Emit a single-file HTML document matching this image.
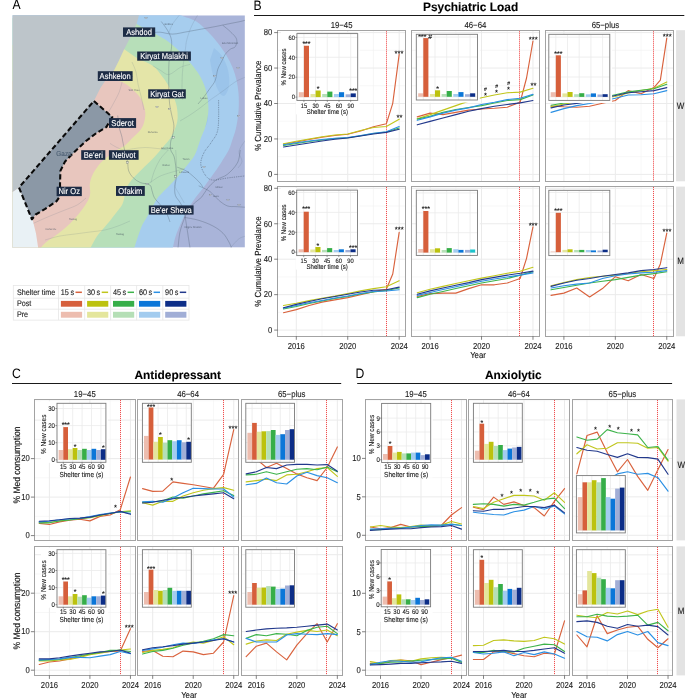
<!DOCTYPE html><html><head><meta charset="utf-8"><title>Figure</title>
<style>html,body{margin:0;padding:0;background:#fff;}svg{display:block;will-change:transform;}text{font-family:"Liberation Sans",sans-serif;text-rendering:geometricPrecision;}</style></head><body>
<svg width="685" height="698" viewBox="0 0 685 698" font-family='"Liberation Sans", sans-serif'>
<rect x="0" y="0" width="685" height="698" fill="#FFFFFF" />
<clipPath id="mapclip"><rect x="12.6" y="15.3" width="232.3" height="232.3"/></clipPath>
<g clip-path="url(#mapclip)">
<rect x="12.6" y="15.3" width="232.3" height="232.3" fill="#A9B4D9" />
<path d="M176,9 C176.88,10.05 177.9,13.22 181.3,15.3 C184.7,17.38 192,18.78 196.4,21.5 C200.8,24.22 204.13,28.03 207.7,31.6 C211.27,35.17 214.67,38.93 217.8,42.9 C220.93,46.87 224,51.22 226.5,55.4 C229,59.58 231.12,63.82 232.8,68 C234.48,72.18 235.65,76.32 236.6,80.5 C237.55,84.68 238.13,89.02 238.5,93.1 C238.87,97.18 238.88,101.18 238.8,105 C238.72,108.82 238.5,112 238,116 C237.5,120 236.8,124.83 235.8,129 C234.8,133.17 233.17,137.5 232,141 C230.83,144.5 230.3,146.92 228.8,150 C227.3,153.08 224.92,156.4 223,159.5 C221.08,162.6 220.17,164.45 217.3,168.6 C214.43,172.75 209.38,179.62 205.8,184.4 C202.22,189.18 198.9,193 195.8,197.3 C192.7,201.6 189.58,206.13 187.2,210.2 C184.82,214.27 183.42,217.4 181.5,221.7 C179.58,226 177.13,231.7 175.7,236 C174.27,240.3 173.6,244.83 172.9,247.5 C172.2,250.17 171.73,251.25 171.5,252 L0,252 L0,9 Z" fill="#A6CDEE"/>
<path d="M214,48 C215.33,49.33 219.67,52.33 222,56 C224.33,59.67 226.83,65 228,70 C229.17,75 229.67,81.67 229,86 C228.33,90.33 225.83,95.33 224,96 C222.17,96.67 219.83,93.5 218,90 C216.17,86.5 214.33,80 213,75 C211.67,70 210.5,62.5 210,60 Z" fill="#98C2E8" opacity="0.8"/>
<path d="M200,96 C201,97.33 204.67,100.33 206,104 C207.33,107.67 208.33,114 208,118 C207.67,122 205.67,127.33 204,128 C202.33,128.67 199.17,125.33 198,122 C196.83,118.67 197.17,110.33 197,108 Z" fill="#98C2E8" opacity="0.8"/>
<path d="M130,18 C131.18,19.03 133.77,22.03 137.1,24.2 C140.43,26.37 146.18,28.93 150,31 C153.82,33.07 156.67,34.62 160,36.6 C163.33,38.58 166.45,40.18 170,42.9 C173.55,45.62 177.73,49.35 181.3,52.9 C184.87,56.45 188.47,60.63 191.4,64.2 C194.33,67.77 196.82,70.95 198.9,74.3 C200.98,77.65 202.5,80.68 203.9,84.3 C205.3,87.92 206.55,92.05 207.3,96 C208.05,99.95 208.37,104.33 208.4,108 C208.43,111.67 208.07,114.67 207.5,118 C206.93,121.33 206,124.92 205,128 C204,131.08 202.58,133.67 201.5,136.5 C200.42,139.33 199.67,141.83 198.5,145 C197.33,148.17 196.5,152 194.5,155.5 C192.5,159 189.15,162.62 186.5,166 C183.85,169.38 181.35,172.63 178.6,175.8 C175.85,178.97 172.77,182.13 170,185 C167.23,187.87 164.08,190.83 162,193 C159.92,195.17 159,195.83 157.5,198 C156,200.17 154.75,202.83 153,206 C151.25,209.17 149,213.33 147,217 C145,220.67 143.33,222.17 141,228 C138.67,233.83 134.33,248 133,252 L0,252 L0,18 Z" fill="#B7DFB9"/>
<path d="M118,45 C119.22,45.83 121.9,47.7 125.3,50 C128.7,52.3 133.82,56.17 138.4,58.8 C142.98,61.43 148.7,62.68 152.8,65.8 C156.9,68.92 160.08,73.6 163,77.5 C165.92,81.4 168.12,84.82 170.3,89.2 C172.48,93.58 174.88,98.93 176.1,103.8 C177.32,108.67 177.87,114.03 177.6,118.4 C177.33,122.77 175.83,126.52 174.5,130 C173.17,133.48 171.58,136.38 169.6,139.3 C167.62,142.22 165.13,144.57 162.6,147.5 C160.07,150.43 157.33,153.78 154.4,156.9 C151.47,160.02 148.12,163.1 145,166.2 C141.88,169.3 138.53,172.38 135.7,175.5 C132.87,178.62 129.73,181.98 128,184.9 C126.27,187.82 126.22,189.82 125.3,193 C124.38,196.18 124.05,200.67 122.5,204 C120.95,207.33 118.25,210 116,213 C113.75,216 111.17,219.33 109,222 C106.83,224.67 105.08,226.5 103,229 C100.92,231.5 98.5,234 96.5,237 C94.5,240 92.25,244.5 91,247 C89.75,249.5 89.33,251.17 89,252 L0,252 L0,45 Z" fill="#E4E5A8"/>
<path d="M98,81 C99.1,80.8 102.27,79.97 104.6,79.8 C106.93,79.63 109.32,79.72 112,80 C114.68,80.28 118.03,80.58 120.7,81.5 C123.37,82.42 125.82,83.97 128,85.5 C130.18,87.03 131.97,88.95 133.8,90.7 C135.63,92.45 137.53,94.07 139,96 C140.47,97.93 141.55,99.53 142.6,102.3 C143.65,105.07 145.07,109.18 145.3,112.6 C145.53,116.02 144.82,119.9 144,122.8 C143.18,125.7 142.17,127.63 140.4,130 C138.63,132.37 135.93,134.47 133.4,137 C130.87,139.53 127.73,143.15 125.2,145.2 C122.67,147.25 120.73,147.67 118.2,149.3 C115.67,150.93 113,152.67 110,155 C107,157.33 103.1,160.02 100.2,163.3 C97.3,166.58 94.33,171.22 92.6,174.7 C90.87,178.18 90.2,181.15 89.8,184.2 C89.4,187.25 90.5,190.28 90.2,193 C89.9,195.72 89.53,197.5 88,200.5 C86.47,203.5 83.95,207.2 81,211 C78.05,214.8 74.13,219.5 70.3,223.3 C66.47,227.1 62.08,230.58 58,233.8 C53.92,237.02 49.3,239.57 45.8,242.6 C42.3,245.63 38.47,250.43 37,252 L0,252 L0,81 Z" fill="#E8C6BE"/>
<polygon points="0,193 12.4,192 19,187.5 32.8,220.4 36,233.5 38.8,252 0,252" fill="#E9F1F5" />
<polygon points="0,0 140,0 139,15.3 136.5,24 130,38 123.8,50 119.2,60 114.1,70.2 106.3,79.2 100.4,88 93.9,101 19,187.5 12.4,192 0,193" fill="#BDC5CA" />
<path d="M150,33 C151.67,32.87 156.23,32.02 160,32.2 C163.77,32.38 168,34.2 172.6,34.1 C177.2,34 182.8,32.43 187.6,31.6 C192.4,30.77 196.8,29.93 201.4,29.1 C206,28.27 210.8,27.45 215.2,26.6 C219.6,25.75 223.6,24.85 227.8,24 C232,23.15 237.37,22.17 240.4,21.5 C243.43,20.83 245.07,20.25 246,20" fill="none" stroke="#4E5C6E" stroke-width="0.55" stroke-opacity="0.6"/>
<path d="M161.3,21.5 C162.33,22.97 165.83,27.37 167.5,30.3 C169.17,33.23 170.67,35.95 171.3,39.1 C171.93,42.25 171.68,45.38 171.3,49.2 C170.92,53.02 169.42,57.77 169,62 C168.58,66.23 168.83,70.07 168.8,74.6 C168.77,79.13 168.67,84.33 168.8,89.2 C168.93,94.07 169.1,99.42 169.6,103.8 C170.1,108.18 171.08,111.85 171.8,115.5 C172.52,119.15 173.78,122.32 173.9,125.7 C174.02,129.08 173.03,133.13 172.5,135.8 C171.97,138.47 171,139.35 170.7,141.7 C170.4,144.05 170.12,147.37 170.7,149.9 C171.28,152.43 173.32,153.8 174.2,156.9 C175.08,160 175.6,165.2 176,168.5 C176.4,171.8 176.8,173.77 176.6,176.7 C176.4,179.63 175,182.98 174.8,186.1 C174.6,189.22 174.53,192.68 175.4,195.4 C176.27,198.12 178.63,199.97 180,202.4 C181.37,204.83 182.6,206.73 183.6,210 C184.6,213.27 185.27,217.83 186,222 C186.73,226.17 187.33,230.67 188,235 C188.67,239.33 189.67,245.83 190,248" fill="none" stroke="#4E5C6E" stroke-width="0.55" stroke-opacity="0.6"/>
<path d="M179.5,15 C178.35,16.5 174.38,21.03 172.6,24 C170.82,26.97 169.43,31.33 168.8,32.8" fill="none" stroke="#5F6E80" stroke-width="0.45" stroke-opacity="0.38"/>
<path d="M197.7,15 C196.85,16.5 194.07,21.03 192.6,24 C191.13,26.97 189.93,29.87 188.9,32.8 C187.87,35.73 187.03,38.45 186.4,41.6 C185.77,44.75 185.73,46.88 185.1,51.7 C184.47,56.52 183.12,64.23 182.6,70.5 C182.08,76.77 182,84.38 182,89.3 C182,94.22 182.5,98.22 182.6,100" fill="none" stroke="#5F6E80" stroke-width="0.45" stroke-opacity="0.38"/>
<path d="M222.8,25.3 C224.05,26.35 228,29.3 230.3,31.6 C232.6,33.9 235.77,36.6 236.6,39.1 C237.43,41.6 236.35,44.92 235.3,46.6 C234.25,48.28 231.97,47.93 230.3,49.2 C228.63,50.47 226.77,52.12 225.3,54.2 C223.83,56.28 222.75,59.2 221.5,61.7 C220.25,64.2 218.85,66.07 217.8,69.2 C216.75,72.33 216.47,77.35 215.2,80.5 C213.93,83.65 212.08,85.37 210.2,88.1 C208.32,90.83 205.93,94.25 203.9,96.9 C201.87,99.55 198.98,102.82 198,104" fill="none" stroke="#4E5C6E" stroke-width="0.55" stroke-opacity="0.6"/>
<path d="M246,76.8 C244.22,77.63 238.75,79.72 235.3,81.8 C231.85,83.88 228.43,87 225.3,89.3 C222.17,91.6 219.02,93.82 216.5,95.6 C213.98,97.38 212.95,97.93 210.2,100 C207.45,102.07 203.37,105.5 200,108 C196.63,110.5 193.33,112.83 190,115 C186.67,117.17 181.67,120 180,121" fill="none" stroke="#5F6E80" stroke-width="0.45" stroke-opacity="0.38"/>
<path d="M122.1,81.9 C121.62,83.6 120.42,88.93 119.2,92.1 C117.98,95.27 116.5,97.73 114.8,100.9 C113.1,104.07 110.8,108.42 109,111.1 C107.2,113.78 104.83,116.02 104,117" fill="none" stroke="#5F6E80" stroke-width="0.45" stroke-opacity="0.38"/>
<path d="M117.7,115.5 C117.95,117.45 118.53,123.78 119.2,127.2 C119.87,130.62 121.1,133.58 121.7,136 C122.3,138.42 122.32,139.38 122.8,141.7 C123.28,144.02 123.82,146.6 124.6,149.9 C125.38,153.2 126.82,158 127.5,161.5 C128.18,165 127.72,168.17 128.7,170.9 C129.68,173.63 131.45,175.95 133.4,177.9 C135.35,179.85 137.68,181.43 140.4,182.6 C143.12,183.77 147.77,183.55 149.7,184.9 C151.63,186.25 151.22,188.57 152,190.7 C152.78,192.83 153.03,195.37 154.4,197.7 C155.77,200.03 158.27,202.32 160.2,204.7 C162.13,207.08 164.37,209.12 166,212 C167.63,214.88 169.33,220.33 170,222" fill="none" stroke="#4E5C6E" stroke-width="0.55" stroke-opacity="0.6"/>
<path d="M148.5,183.7 C150.25,182.53 155.68,178.45 159,176.7 C162.32,174.95 165.47,174.17 168.4,173.2 C171.33,172.23 173.88,171.68 176.6,170.9 C179.32,170.12 183.35,168.9 184.7,168.5" fill="none" stroke="#5F6E80" stroke-width="0.45" stroke-opacity="0.38"/>
<path d="M168.4,149.9 C167.03,151.45 162.53,155.7 160.2,159.2 C157.87,162.7 155.95,167 154.4,170.9 C152.85,174.8 151.48,180.65 150.9,182.6" fill="none" stroke="#5F6E80" stroke-width="0.45" stroke-opacity="0.38"/>
<path d="M110,143.4 C111.17,144.08 114.57,146.42 117,147.5 C119.43,148.58 121.87,149.7 124.6,149.9 C127.33,150.1 130,149.1 133.4,148.7 C136.8,148.3 140.73,147.5 145,147.5 C149.27,147.5 155.1,148.3 159,148.7 C162.9,149.1 166.83,149.7 168.4,149.9" fill="none" stroke="#5F6E80" stroke-width="0.45" stroke-opacity="0.38"/>
<path d="M33.5,223.3 C36.25,222.08 44.75,218.22 50,216 C55.25,213.78 60.45,211.85 65,210 C69.55,208.15 73.8,206.9 77.3,204.9 C80.8,202.9 84.55,199.15 86,198" fill="none" stroke="#5F6E80" stroke-width="0.45" stroke-opacity="0.38"/>
<path d="M45,240 C47.5,239.33 55,237 60,236 C65,235 70,234.67 75,234 C80,233.33 85,232.67 90,232 C95,231.33 100.33,231 105,230 C109.67,229 113.83,227.5 118,226 C122.17,224.5 128,221.83 130,221" fill="none" stroke="#5F6E80" stroke-width="0.45" stroke-opacity="0.38"/>
<path d="M152.8,65.8 C154,66.5 157.33,68.53 160,70 C162.67,71.47 165.38,75.05 168.8,74.6 C172.22,74.15 176.97,69 180.5,67.3 C184.03,65.6 188.42,64.88 190,64.4" fill="none" stroke="#5F6E80" stroke-width="0.45" stroke-opacity="0.38"/>
<path d="M132,62 C132.67,63.67 135,68.33 136,72 C137,75.67 137.17,80 138,84 C138.83,88 140,91.67 141,96 C142,100.33 143.5,107.67 144,110" fill="none" stroke="#5F6E80" stroke-width="0.45" stroke-opacity="0.38"/>
<path d="M240.3,150 C239.82,152.15 239.57,158.83 237.4,162.9 C235.23,166.97 230.88,171.53 227.3,174.4 C223.72,177.27 219.23,177.72 215.9,180.1 C212.57,182.48 209.7,185.83 207.3,188.7 C204.9,191.57 203.65,194.92 201.5,197.3 C199.35,199.68 196.55,200.85 194.4,203 C192.25,205.15 190.28,207.57 188.6,210.2 C186.92,212.83 185.73,215.17 184.3,218.8 C182.87,222.43 181.05,227.13 180,232 C178.95,236.87 178.33,245.33 178,248" fill="none" stroke="#4E5C6E" stroke-width="0.55" stroke-opacity="0.6"/>
<path d="M198.7,185.8 C200.6,186.77 206.77,189.2 210.1,191.6 C213.43,194 215.83,197.82 218.7,200.2 C221.57,202.58 224.42,204.83 227.3,205.9 C230.18,206.97 232.88,206.37 236,206.6 C239.12,206.83 244.33,207.18 246,207.3" fill="none" stroke="#4E5C6E" stroke-width="0.55" stroke-opacity="0.6"/>
<path d="M184.3,217.4 C186.7,217.88 193.92,218.87 198.7,220.3 C203.48,221.73 208.95,223.85 213,226 C217.05,228.15 220.37,230.57 223,233.2 C225.63,235.83 227.37,239.33 228.8,241.8 C230.23,244.27 231.13,246.97 231.6,248" fill="none" stroke="#4E5C6E" stroke-width="0.55" stroke-opacity="0.6"/>
<path d="M230.2,248 C231.63,246.48 236.17,240.9 238.8,238.9 C241.43,236.9 244.8,236.48 246,236" fill="none" stroke="#5F6E80" stroke-width="0.45" stroke-opacity="0.38"/>
<path d="M175.7,150 C175.83,152.38 176.5,160.23 176.5,164.3 C176.5,168.37 175.95,170.82 175.7,174.4 C175.45,177.98 174.52,182.7 175,185.8 C175.48,188.9 177.05,190.13 178.6,193 C180.15,195.87 183.35,201.33 184.3,203" fill="none" stroke="#5F6E80" stroke-width="0.45" stroke-opacity="0.38"/>
<path d="M177.2,167.2 C178.87,167.92 183.62,169.12 187.2,171.5 C190.78,173.88 196.07,178.87 198.7,181.5 C201.33,184.13 202.28,186.33 203,187.3" fill="none" stroke="#4E5C6E" stroke-width="0.55" stroke-opacity="0.6"/>
<path d="M246,139.4 C244.83,141.35 239.67,147.45 239,151.1 C238.33,154.75 242.17,158.48 242,161.3 C241.83,164.12 238.67,166.88 238,168" fill="none" stroke="#5F6E80" stroke-width="0.45" stroke-opacity="0.38"/>
<path d="M218.6,100 C218.48,104.87 219.12,122.15 217.9,129.2 C216.68,136.25 213.62,138.4 211.3,142.3 C208.98,146.2 205.75,148.93 204,152.6 C202.25,156.27 200.5,160.43 200.8,164.3 C201.1,168.17 203.77,173.17 205.8,175.8 C207.83,178.43 209.42,179.73 213,180.1 C216.58,180.47 221.8,178.72 227.3,178 C232.8,177.28 242.88,176.17 246,175.8" fill="none" stroke="#3F4E62" stroke-width="0.7" stroke-dasharray="0.8,1" stroke-opacity="0.8"/>
<text transform="translate(152.6 132.5)" font-size="2.6" fill="#3E4A58" fill-opacity="0.75" text-anchor="middle">Ruhama</text>
<text transform="translate(167.2 149)" font-size="2.6" fill="#3E4A58" fill-opacity="0.75" text-anchor="middle">Beit Kama</text>
<text transform="translate(166 165.5)" font-size="2.6" fill="#3E4A58" fill-opacity="0.75" text-anchor="middle">Rahat</text>
<text transform="translate(185.9 160)" font-size="2.6" fill="#3E4A58" fill-opacity="0.75" text-anchor="middle">Tlalim</text>
<text transform="translate(184.2 172.5)" font-size="2.6" fill="#3E4A58" fill-opacity="0.75" text-anchor="middle">Lehavim</text>
<text transform="translate(219 187.5)" font-size="2.6" fill="#3E4A58" fill-opacity="0.75" text-anchor="middle">Meitar</text>
<text transform="translate(216 196.5)" font-size="2.6" fill="#3E4A58" fill-opacity="0.75" text-anchor="middle">Hura</text>
<text transform="translate(193 228)" font-size="2.6" fill="#3E4A58" fill-opacity="0.75" text-anchor="middle">Negev Shalom</text>
<text transform="translate(168.5 25)" font-size="2.6" fill="#3E4A58" fill-opacity="0.75" text-anchor="middle">Gedera</text>
<text transform="translate(147 36.5)" font-size="2.6" fill="#3E4A58" fill-opacity="0.75" text-anchor="middle">Gan Yavne</text>
<text transform="translate(134 91)" font-size="2.6" fill="#3E4A58" fill-opacity="0.75" text-anchor="middle">Sde Yoav</text>
<text transform="translate(204 99)" font-size="2.6" fill="#3E4A58" fill-opacity="0.75" text-anchor="middle">Lahav</text>
<text transform="translate(230 44)" font-size="2.6" fill="#3E4A58" fill-opacity="0.75" text-anchor="middle">Beit Shemesh</text>
<text transform="translate(73 219.5)" font-size="2.6" fill="#3E4A58" fill-opacity="0.75" text-anchor="middle">Tsiklag</text>
<text transform="translate(51 229.5)" font-size="2.6" fill="#3E4A58" fill-opacity="0.75" text-anchor="middle">Nahal Oz</text>
<text transform="translate(120 235)" font-size="2.6" fill="#3E4A58" fill-opacity="0.75" text-anchor="middle">Tsiklag</text>
<rect x="130.4" y="76.2" width="2.2" height="1.6" fill="#F4F4F4" fill-opacity="0.6" stroke="#56606C" stroke-width="0.3"/>
<rect x="155.9" y="106.2" width="2.2" height="1.6" fill="#F4F4F4" fill-opacity="0.6" stroke="#56606C" stroke-width="0.3"/>
<rect x="168.5" y="108.2" width="2.2" height="1.6" fill="#F4F4F4" fill-opacity="0.6" stroke="#56606C" stroke-width="0.3"/>
<rect x="172.4" y="136.7" width="2.2" height="1.6" fill="#F4F4F4" fill-opacity="0.6" stroke="#56606C" stroke-width="0.3"/>
<rect x="126.4" y="161.7" width="2.2" height="1.6" fill="#F4F4F4" fill-opacity="0.6" stroke="#56606C" stroke-width="0.3"/>
<rect x="174.5" y="175.7" width="2.2" height="1.6" fill="#F4F4F4" fill-opacity="0.6" stroke="#56606C" stroke-width="0.3"/>
<rect x="145.9" y="183.2" width="2.2" height="1.6" fill="#F4F4F4" fill-opacity="0.6" stroke="#56606C" stroke-width="0.3"/>
<rect x="209.2" y="194.2" width="2.2" height="1.6" fill="#F4F4F4" fill-opacity="0.6" stroke="#56606C" stroke-width="0.3"/>
<rect x="213.4" y="75.2" width="2.2" height="1.6" fill="#F4F4F4" fill-opacity="0.6" stroke="#56606C" stroke-width="0.3"/>
<rect x="220.9" y="57.2" width="2.2" height="1.6" fill="#F4F4F4" fill-opacity="0.6" stroke="#56606C" stroke-width="0.3"/>
<rect x="236.9" y="67.2" width="2.2" height="1.6" fill="#F4F4F4" fill-opacity="0.6" stroke="#56606C" stroke-width="0.3"/>
<rect x="237.4" y="115.2" width="2.2" height="1.6" fill="#F4F4F4" fill-opacity="0.6" stroke="#56606C" stroke-width="0.3"/>
<rect x="226.9" y="199.2" width="2.2" height="1.6" fill="#F4F4F4" fill-opacity="0.6" stroke="#56606C" stroke-width="0.3"/>
<rect x="237.9" y="204.2" width="2.2" height="1.6" fill="#F4F4F4" fill-opacity="0.6" stroke="#56606C" stroke-width="0.3"/>
<rect x="202.9" y="166.2" width="2.2" height="1.6" fill="#F4F4F4" fill-opacity="0.6" stroke="#56606C" stroke-width="0.3"/>
<rect x="144.9" y="17.2" width="2.2" height="1.6" fill="#F4F4F4" fill-opacity="0.6" stroke="#56606C" stroke-width="0.3"/>
<polygon points="93.9,101 112.3,117.1 106.3,127.1 96.3,133.1 86,141 76.2,150.2 65.1,161.4 60.4,170.9 60,184.2 60.4,195.5 56.6,201.2 45.2,208.8 35.7,214.5 31.9,219.3 19,187.5" fill="#8B98A6" />
<polygon points="93.9,101 112.3,117.1 106.3,127.1 96.3,133.1 86,141 76.2,150.2 65.1,161.4 60.4,170.9 60,184.2 60.4,195.5 56.6,201.2 45.2,208.8 35.7,214.5 31.9,219.3 19,187.5" fill="none" stroke="#0A0A0A" stroke-width="2.1" stroke-dasharray="5.2,2.8" stroke-linejoin="round"/>
<text font-size="6.4" fill="#4A5D72" text-anchor="middle" transform="translate(64 156) scale(1 1.12)" stroke="#4A5D72" stroke-width="0.1">Gaza</text>
</g>
<rect x="123" y="27.4" width="32.2" height="9.4" fill="#1D2C45" />
<text font-size="7.6" fill="#FFFFFF" text-anchor="middle" transform="translate(139.1 34.8) scale(1 1.12)" stroke="#FFFFFF" stroke-width="0.1">Ashdod</text>
<rect x="137.2" y="51.5" width="53.7" height="9.2" fill="#1D2C45" />
<text font-size="7.6" fill="#FFFFFF" text-anchor="middle" transform="translate(164.05 58.8) scale(1 1.12)" stroke="#FFFFFF" stroke-width="0.1">Kiryat Malakhi</text>
<rect x="97.8" y="71.2" width="34.8" height="9.8" fill="#1D2C45" />
<text font-size="7.6" fill="#FFFFFF" text-anchor="middle" transform="translate(115.2 78.8) scale(1 1.12)" stroke="#FFFFFF" stroke-width="0.1">Ashkelon</text>
<rect x="148.2" y="89.3" width="37.6" height="9.2" fill="#1D2C45" />
<text font-size="7.6" fill="#FFFFFF" text-anchor="middle" transform="translate(167 96.6) scale(1 1.12)" stroke="#FFFFFF" stroke-width="0.1">Kiryat Gat</text>
<rect x="109" y="118.1" width="27.1" height="9.8" fill="#1D2C45" />
<text font-size="7.6" fill="#FFFFFF" text-anchor="middle" transform="translate(122.55 125.7) scale(1 1.12)" stroke="#FFFFFF" stroke-width="0.1">Sderot</text>
<rect x="81.2" y="150.2" width="24.1" height="9.6" fill="#1D2C45" />
<text font-size="7.6" fill="#FFFFFF" text-anchor="middle" transform="translate(93.25 157.7) scale(1 1.12)" stroke="#FFFFFF" stroke-width="0.1">Be'eri</text>
<rect x="108.9" y="150.2" width="29.7" height="9.6" fill="#1D2C45" />
<text font-size="7.6" fill="#FFFFFF" text-anchor="middle" transform="translate(123.75 157.7) scale(1 1.12)" stroke="#FFFFFF" stroke-width="0.1">Netivot</text>
<rect x="56.6" y="186.7" width="25.2" height="9.4" fill="#1D2C45" />
<text font-size="7.6" fill="#FFFFFF" text-anchor="middle" transform="translate(69.2 194.1) scale(1 1.12)" stroke="#FFFFFF" stroke-width="0.1">Nir Oz</text>
<rect x="116" y="186" width="28.8" height="9.9" fill="#1D2C45" />
<text font-size="7.6" fill="#FFFFFF" text-anchor="middle" transform="translate(130.4 193.65) scale(1 1.12)" stroke="#FFFFFF" stroke-width="0.1">Ofakim</text>
<rect x="148.8" y="205.4" width="44.8" height="9.2" fill="#1D2C45" />
<text font-size="7.6" fill="#FFFFFF" text-anchor="middle" transform="translate(171.2 212.7) scale(1 1.12)" stroke="#FFFFFF" stroke-width="0.1">Be'er Sheva</text>
<rect x="13.3" y="285.4" width="175.7" height="34.7" fill="#FFFFFF" stroke="#E6E6E6" stroke-width="0.8" />
<line x1="13.3" y1="298.2" x2="189" y2="298.2" stroke="#E6E6E6" stroke-width="0.8" />
<line x1="13.3" y1="309.2" x2="189" y2="309.2" stroke="#E6E6E6" stroke-width="0.8" />
<line x1="58.5" y1="285.4" x2="58.5" y2="320.1" stroke="#E6E6E6" stroke-width="0.8" />
<line x1="84.7" y1="285.4" x2="84.7" y2="320.1" stroke="#E6E6E6" stroke-width="0.8" />
<line x1="110.6" y1="285.4" x2="110.6" y2="320.1" stroke="#E6E6E6" stroke-width="0.8" />
<line x1="136.6" y1="285.4" x2="136.6" y2="320.1" stroke="#E6E6E6" stroke-width="0.8" />
<line x1="162.8" y1="285.4" x2="162.8" y2="320.1" stroke="#E6E6E6" stroke-width="0.8" />
<text font-size="7.2" fill="#1A1A1A" transform="translate(16.9 294.6) scale(1 1.12)" stroke="#1A1A1A" stroke-width="0.1">Shelter time</text>
<text font-size="7.2" fill="#1A1A1A" transform="translate(16.9 306.1) scale(1 1.12)" stroke="#1A1A1A" stroke-width="0.1">Post</text>
<text font-size="7.2" fill="#1A1A1A" transform="translate(16.9 317) scale(1 1.12)" stroke="#1A1A1A" stroke-width="0.1">Pre</text>
<text font-size="7.3" fill="#1A1A1A" transform="translate(60.8 294.6) scale(1 1.12)" stroke="#1A1A1A" stroke-width="0.1">15 s</text>
<line x1="75.5" y1="292.3" x2="81.9" y2="292.3" stroke="#D9623D" stroke-width="1.5" />
<rect x="60.9" y="300.9" width="21.2" height="5.8" fill="#D65F3B" />
<rect x="60.9" y="311.8" width="21.2" height="5.9" fill="#EDBDAF" />
<text font-size="7.3" fill="#1A1A1A" transform="translate(87 294.6) scale(1 1.12)" stroke="#1A1A1A" stroke-width="0.1">30 s</text>
<line x1="101.7" y1="292.3" x2="108.1" y2="292.3" stroke="#C0C61C" stroke-width="1.5" />
<rect x="87.1" y="300.9" width="21.2" height="5.8" fill="#BCC20E" />
<rect x="87.1" y="311.8" width="21.2" height="5.9" fill="#E4E69C" />
<text font-size="7.3" fill="#1A1A1A" transform="translate(112.9 294.6) scale(1 1.12)" stroke="#1A1A1A" stroke-width="0.1">45 s</text>
<line x1="127.6" y1="292.3" x2="134" y2="292.3" stroke="#3DB34A" stroke-width="1.5" />
<rect x="113" y="300.9" width="21.2" height="5.8" fill="#36AE48" />
<rect x="113" y="311.8" width="21.2" height="5.9" fill="#B5DFB6" />
<text font-size="7.3" fill="#1A1A1A" transform="translate(138.9 294.6) scale(1 1.12)" stroke="#1A1A1A" stroke-width="0.1">60 s</text>
<line x1="153.6" y1="292.3" x2="160" y2="292.3" stroke="#2B90E4" stroke-width="1.5" />
<rect x="139" y="300.9" width="21.2" height="5.8" fill="#0B76D8" />
<rect x="139" y="311.8" width="21.2" height="5.9" fill="#A3CCEF" />
<text font-size="7.3" fill="#1A1A1A" transform="translate(165.1 294.6) scale(1 1.12)" stroke="#1A1A1A" stroke-width="0.1">90 s</text>
<line x1="179.8" y1="292.3" x2="186.2" y2="292.3" stroke="#22398C" stroke-width="1.5" />
<rect x="165.2" y="300.9" width="21.2" height="5.8" fill="#0C2D87" />
<rect x="165.2" y="311.8" width="21.2" height="5.9" fill="#A1AED6" />
<g>
<line x1="322.02" y1="30.2" x2="322.02" y2="181.3" stroke="#F1F1F1" stroke-width="0.6" />
<line x1="373.46" y1="30.2" x2="373.46" y2="181.3" stroke="#F1F1F1" stroke-width="0.6" />
<line x1="277.7" y1="156.68" x2="405.5" y2="156.68" stroke="#F1F1F1" stroke-width="0.6" />
<line x1="277.7" y1="121.23" x2="405.5" y2="121.23" stroke="#F1F1F1" stroke-width="0.6" />
<line x1="277.7" y1="85.78" x2="405.5" y2="85.78" stroke="#F1F1F1" stroke-width="0.6" />
<line x1="277.7" y1="50.33" x2="405.5" y2="50.33" stroke="#F1F1F1" stroke-width="0.6" />
<line x1="296.3" y1="30.2" x2="296.3" y2="181.3" stroke="#EBEBEB" stroke-width="1" />
<line x1="347.74" y1="30.2" x2="347.74" y2="181.3" stroke="#EBEBEB" stroke-width="1" />
<line x1="399.18" y1="30.2" x2="399.18" y2="181.3" stroke="#EBEBEB" stroke-width="1" />
<line x1="277.7" y1="174.4" x2="405.5" y2="174.4" stroke="#EBEBEB" stroke-width="1" />
<line x1="277.7" y1="138.95" x2="405.5" y2="138.95" stroke="#EBEBEB" stroke-width="1" />
<line x1="277.7" y1="103.5" x2="405.5" y2="103.5" stroke="#EBEBEB" stroke-width="1" />
<line x1="277.7" y1="68.05" x2="405.5" y2="68.05" stroke="#EBEBEB" stroke-width="1" />
<line x1="277.7" y1="32.6" x2="405.5" y2="32.6" stroke="#EBEBEB" stroke-width="1" />
<line x1="386.5" y1="30.7" x2="386.5" y2="181.3" stroke="#EE3B3B" stroke-width="1" stroke-dasharray="1,1"/>
<polyline points="283.44,144.2 296.3,142 309.16,139.5 322.02,137.2 334.88,135.5 347.74,134.3 360.6,131 373.46,126.7 386.32,123.8 392.75,103.3 399.18,54.4" fill="none" stroke="#D9623D" stroke-width="1.15" stroke-linejoin="round" stroke-linecap="round"/>
<polyline points="283.44,143.8 296.3,141.3 309.16,139 322.02,136.8 334.88,135 347.74,134 360.6,130.5 373.46,127.5 386.32,126.5 399.18,119.2" fill="none" stroke="#C0C61C" stroke-width="1.15" stroke-linejoin="round" stroke-linecap="round"/>
<polyline points="283.44,145.5 296.3,143.5 309.16,141.5 322.02,140 334.88,138.5 347.74,137.8 360.6,135.8 373.46,133.5 386.32,132 399.18,128" fill="none" stroke="#3DB34A" stroke-width="1.15" stroke-linejoin="round" stroke-linecap="round"/>
<polyline points="283.44,144.7 296.3,142.8 309.16,141 322.02,139.5 334.88,138.3 347.74,137.5 360.6,135.5 373.46,133.3 386.32,131.8 399.18,126.5" fill="none" stroke="#2B90E4" stroke-width="1.15" stroke-linejoin="round" stroke-linecap="round"/>
<polyline points="283.44,147 296.3,145 309.16,143 322.02,141 334.88,139.3 347.74,138 360.6,136 373.46,134 386.32,132.4 399.18,129.3" fill="none" stroke="#22398C" stroke-width="1.15" stroke-linejoin="round" stroke-linecap="round"/>
<text font-size="7.6" fill="#000" text-anchor="middle" transform="translate(399 55.56)" stroke="#000" stroke-width="0.12">***</text>
<text font-size="7.6" fill="#000" text-anchor="middle" transform="translate(399.4 119.76)" stroke="#000" stroke-width="0.12">**</text>
<rect x="280.9" y="31.6" width="16" height="69.3" fill="#FFFFFF" />
<rect x="295.9" y="99.4" width="63.8" height="15" fill="#FFFFFF" />
<rect x="357.7" y="31.6" width="2" height="69.8" fill="#FFFFFF" />
<rect x="296.9" y="33.6" width="60.8" height="66.8" fill="#FFFFFF" />
<line x1="296.9" y1="97.1" x2="357.7" y2="97.1" stroke="#EBEBEB" stroke-width="0.8" />
<line x1="296.9" y1="77.2" x2="357.7" y2="77.2" stroke="#EBEBEB" stroke-width="0.8" />
<line x1="296.9" y1="57.3" x2="357.7" y2="57.3" stroke="#EBEBEB" stroke-width="0.8" />
<line x1="296.9" y1="37.4" x2="357.7" y2="37.4" stroke="#EBEBEB" stroke-width="0.8" />
<line x1="303.9" y1="33.6" x2="303.9" y2="100.4" stroke="#EBEBEB" stroke-width="0.8" />
<line x1="315.6" y1="33.6" x2="315.6" y2="100.4" stroke="#EBEBEB" stroke-width="0.8" />
<line x1="327.3" y1="33.6" x2="327.3" y2="100.4" stroke="#EBEBEB" stroke-width="0.8" />
<line x1="339" y1="33.6" x2="339" y2="100.4" stroke="#EBEBEB" stroke-width="0.8" />
<line x1="350.7" y1="33.6" x2="350.7" y2="100.4" stroke="#EBEBEB" stroke-width="0.8" />
<rect x="298.8" y="92.2" width="5.1" height="4.9" fill="#EDBDAF" />
<rect x="303.9" y="45.75" width="5.1" height="51.35" fill="#D65F3B" />
<rect x="310.5" y="94" width="5.1" height="3.1" fill="#E4E69C" />
<rect x="315.6" y="90.5" width="5.1" height="6.6" fill="#BCC20E" />
<rect x="322.2" y="94" width="5.1" height="3.1" fill="#B5DFB6" />
<rect x="327.3" y="91.6" width="5.1" height="5.5" fill="#36AE48" />
<rect x="333.9" y="94" width="5.1" height="3.1" fill="#A3CCEF" />
<rect x="339" y="92.2" width="5.1" height="4.9" fill="#0B76D8" />
<rect x="345.6" y="94.3" width="5.1" height="2.8" fill="#A1AED6" />
<rect x="350.7" y="93.4" width="5.1" height="3.7" fill="#0C2D87" />
<text font-size="6.9" fill="#000" text-anchor="middle" transform="translate(306.45 45.94)" stroke="#000" stroke-width="0.12">***</text>
<text font-size="6.9" fill="#000" text-anchor="middle" transform="translate(318.15 91.14)" stroke="#000" stroke-width="0.12">*</text>
<text font-size="6.9" fill="#000" text-anchor="middle" transform="translate(353.25 93.04)" stroke="#000" stroke-width="0.12">***</text>
<rect x="296.9" y="33.6" width="60.8" height="66.8" fill="none" stroke="#7A7A7A" stroke-width="0.9" />
<line x1="295.3" y1="97.1" x2="296.9" y2="97.1" stroke="#555" stroke-width="0.6" />
<text font-size="5.8" fill="#222222" text-anchor="end" transform="translate(294.9 99.39) scale(1 1.12)" stroke="#222222" stroke-width="0.1">0</text>
<line x1="295.3" y1="77.2" x2="296.9" y2="77.2" stroke="#555" stroke-width="0.6" />
<text font-size="5.8" fill="#222222" text-anchor="end" transform="translate(294.9 79.49) scale(1 1.12)" stroke="#222222" stroke-width="0.1">20</text>
<line x1="295.3" y1="57.3" x2="296.9" y2="57.3" stroke="#555" stroke-width="0.6" />
<text font-size="5.8" fill="#222222" text-anchor="end" transform="translate(294.9 59.59) scale(1 1.12)" stroke="#222222" stroke-width="0.1">40</text>
<line x1="295.3" y1="37.4" x2="296.9" y2="37.4" stroke="#555" stroke-width="0.6" />
<text font-size="5.8" fill="#222222" text-anchor="end" transform="translate(294.9 39.69) scale(1 1.12)" stroke="#222222" stroke-width="0.1">60</text>
<line x1="303.9" y1="100.4" x2="303.9" y2="101.9" stroke="#555" stroke-width="0.6" />
<text font-size="5.8" fill="#222222" text-anchor="middle" transform="translate(303.9 107.5) scale(1 1.12)" stroke="#222222" stroke-width="0.1">15</text>
<line x1="315.6" y1="100.4" x2="315.6" y2="101.9" stroke="#555" stroke-width="0.6" />
<text font-size="5.8" fill="#222222" text-anchor="middle" transform="translate(315.6 107.5) scale(1 1.12)" stroke="#222222" stroke-width="0.1">30</text>
<line x1="327.3" y1="100.4" x2="327.3" y2="101.9" stroke="#555" stroke-width="0.6" />
<text font-size="5.8" fill="#222222" text-anchor="middle" transform="translate(327.3 107.5) scale(1 1.12)" stroke="#222222" stroke-width="0.1">45</text>
<line x1="339" y1="100.4" x2="339" y2="101.9" stroke="#555" stroke-width="0.6" />
<text font-size="5.8" fill="#222222" text-anchor="middle" transform="translate(339 107.5) scale(1 1.12)" stroke="#222222" stroke-width="0.1">60</text>
<line x1="350.7" y1="100.4" x2="350.7" y2="101.9" stroke="#555" stroke-width="0.6" />
<text font-size="5.8" fill="#222222" text-anchor="middle" transform="translate(350.7 107.5) scale(1 1.12)" stroke="#222222" stroke-width="0.1">90</text>
<text font-size="6.1" fill="#222" text-anchor="middle" transform="translate(327.3 114) scale(1 1.12)" stroke="#222" stroke-width="0.1">Shelter time (s)</text>
<text font-size="6.1" fill="#222" text-anchor="middle" transform="translate(286.3 67) rotate(-90) scale(1 1.12)" stroke="#222" stroke-width="0.1">% New cases</text>
<rect x="277.5" y="30.5" width="128" height="151" fill="none" stroke="#A3A3A3" stroke-width="1" />
</g>
<line x1="274.2" y1="174.4" x2="277.7" y2="174.4" stroke="#4D4D4D" stroke-width="0.7" />
<text font-size="7.7" fill="#222222" text-anchor="end" transform="translate(272.3 177.15) scale(1 1.12)" stroke="#222222" stroke-width="0.1">0</text>
<line x1="274.2" y1="138.95" x2="277.7" y2="138.95" stroke="#4D4D4D" stroke-width="0.7" />
<text font-size="7.7" fill="#222222" text-anchor="end" transform="translate(272.3 141.7) scale(1 1.12)" stroke="#222222" stroke-width="0.1">20</text>
<line x1="274.2" y1="103.5" x2="277.7" y2="103.5" stroke="#4D4D4D" stroke-width="0.7" />
<text font-size="7.7" fill="#222222" text-anchor="end" transform="translate(272.3 106.25) scale(1 1.12)" stroke="#222222" stroke-width="0.1">40</text>
<line x1="274.2" y1="68.05" x2="277.7" y2="68.05" stroke="#4D4D4D" stroke-width="0.7" />
<text font-size="7.7" fill="#222222" text-anchor="end" transform="translate(272.3 70.8) scale(1 1.12)" stroke="#222222" stroke-width="0.1">60</text>
<line x1="274.2" y1="32.6" x2="277.7" y2="32.6" stroke="#4D4D4D" stroke-width="0.7" />
<text font-size="7.7" fill="#222222" text-anchor="end" transform="translate(272.3 35.35) scale(1 1.12)" stroke="#222222" stroke-width="0.1">80</text>
<g>
<line x1="455.82" y1="30.2" x2="455.82" y2="181.3" stroke="#F1F1F1" stroke-width="0.6" />
<line x1="507.26" y1="30.2" x2="507.26" y2="181.3" stroke="#F1F1F1" stroke-width="0.6" />
<line x1="411.5" y1="156.68" x2="539.3" y2="156.68" stroke="#F1F1F1" stroke-width="0.6" />
<line x1="411.5" y1="121.23" x2="539.3" y2="121.23" stroke="#F1F1F1" stroke-width="0.6" />
<line x1="411.5" y1="85.78" x2="539.3" y2="85.78" stroke="#F1F1F1" stroke-width="0.6" />
<line x1="411.5" y1="50.33" x2="539.3" y2="50.33" stroke="#F1F1F1" stroke-width="0.6" />
<line x1="430.1" y1="30.2" x2="430.1" y2="181.3" stroke="#EBEBEB" stroke-width="1" />
<line x1="481.54" y1="30.2" x2="481.54" y2="181.3" stroke="#EBEBEB" stroke-width="1" />
<line x1="532.98" y1="30.2" x2="532.98" y2="181.3" stroke="#EBEBEB" stroke-width="1" />
<line x1="411.5" y1="174.4" x2="539.3" y2="174.4" stroke="#EBEBEB" stroke-width="1" />
<line x1="411.5" y1="138.95" x2="539.3" y2="138.95" stroke="#EBEBEB" stroke-width="1" />
<line x1="411.5" y1="103.5" x2="539.3" y2="103.5" stroke="#EBEBEB" stroke-width="1" />
<line x1="411.5" y1="68.05" x2="539.3" y2="68.05" stroke="#EBEBEB" stroke-width="1" />
<line x1="411.5" y1="32.6" x2="539.3" y2="32.6" stroke="#EBEBEB" stroke-width="1" />
<line x1="519.5" y1="30.7" x2="519.5" y2="181.3" stroke="#EE3B3B" stroke-width="1" stroke-dasharray="1,1"/>
<polyline points="417.24,116.9 430.1,113.1 442.96,114.6 455.82,112.4 468.68,110.1 481.54,109 494.4,108.3 507.26,107.2 520.12,102.3 526.55,78 532.98,41" fill="none" stroke="#D9623D" stroke-width="1.15" stroke-linejoin="round" stroke-linecap="round"/>
<polyline points="417.24,118.7 430.1,114.6 442.96,110.1 455.82,105.6 468.68,101.1 481.54,97.8 494.4,95 507.26,92.8 520.12,92.1 532.98,88.3" fill="none" stroke="#C0C61C" stroke-width="1.15" stroke-linejoin="round" stroke-linecap="round"/>
<polyline points="417.24,119.1 430.1,116.2 442.96,112.4 455.82,109.5 468.68,107.5 481.54,105.6 494.4,103 507.26,100.5 520.12,99.6 532.98,95" fill="none" stroke="#3DB34A" stroke-width="1.15" stroke-linejoin="round" stroke-linecap="round"/>
<polyline points="417.24,120.3 430.1,116.9 442.96,113.1 455.82,110.1 468.68,107.9 481.54,104.5 494.4,102.3 507.26,99.6 520.12,98.2 532.98,94.4" fill="none" stroke="#2B90E4" stroke-width="1.15" stroke-linejoin="round" stroke-linecap="round"/>
<polyline points="417.24,124.8 430.1,121.4 442.96,118 455.82,114.6 468.68,111.3 481.54,108.6 494.4,106.3 507.26,104.5 520.12,102.9 532.98,100.5" fill="none" stroke="#22398C" stroke-width="1.15" stroke-linejoin="round" stroke-linecap="round"/>
<text font-size="7.6" fill="#000" text-anchor="middle" transform="translate(533.2 42.06)" stroke="#000" stroke-width="0.12">***</text>
<text font-size="7.6" fill="#000" text-anchor="middle" transform="translate(533.5 87.56)" stroke="#000" stroke-width="0.12">**</text>
<text font-size="5" fill="#000" text-anchor="middle" transform="translate(485.4 91)" stroke="#000" stroke-width="0.12">#</text>
<text font-size="7.6" fill="#000" text-anchor="middle" transform="translate(485.4 97.66)" stroke="#000" stroke-width="0.12">*</text>
<text font-size="5" fill="#000" text-anchor="middle" transform="translate(496.6 87.6)" stroke="#000" stroke-width="0.12">#</text>
<text font-size="7.6" fill="#000" text-anchor="middle" transform="translate(496.6 94.76)" stroke="#000" stroke-width="0.12">*</text>
<text font-size="5" fill="#000" text-anchor="middle" transform="translate(508.6 84.7)" stroke="#000" stroke-width="0.12">#</text>
<text font-size="7.6" fill="#000" text-anchor="middle" transform="translate(508.6 91.86)" stroke="#000" stroke-width="0.12">*</text>
<rect x="416.3" y="34.3" width="63.5" height="68.3" fill="#FFFFFF" />
<rect x="416.3" y="34.3" width="61.2" height="65.7" fill="#FFFFFF" />
<line x1="416.3" y1="96.8" x2="477.5" y2="96.8" stroke="#EBEBEB" stroke-width="0.8" />
<line x1="416.3" y1="76.9" x2="477.5" y2="76.9" stroke="#EBEBEB" stroke-width="0.8" />
<line x1="416.3" y1="57" x2="477.5" y2="57" stroke="#EBEBEB" stroke-width="0.8" />
<line x1="416.3" y1="37.1" x2="477.5" y2="37.1" stroke="#EBEBEB" stroke-width="0.8" />
<line x1="423.3" y1="34.3" x2="423.3" y2="100" stroke="#EBEBEB" stroke-width="0.8" />
<line x1="435" y1="34.3" x2="435" y2="100" stroke="#EBEBEB" stroke-width="0.8" />
<line x1="446.7" y1="34.3" x2="446.7" y2="100" stroke="#EBEBEB" stroke-width="0.8" />
<line x1="458.4" y1="34.3" x2="458.4" y2="100" stroke="#EBEBEB" stroke-width="0.8" />
<line x1="470.1" y1="34.3" x2="470.1" y2="100" stroke="#EBEBEB" stroke-width="0.8" />
<rect x="418.2" y="93.3" width="5.1" height="3.5" fill="#EDBDAF" />
<rect x="423.3" y="38.1" width="5.1" height="58.7" fill="#D65F3B" />
<rect x="429.9" y="94" width="5.1" height="2.8" fill="#E4E69C" />
<rect x="435" y="90.3" width="5.1" height="6.5" fill="#BCC20E" />
<rect x="441.6" y="94" width="5.1" height="2.8" fill="#B5DFB6" />
<rect x="446.7" y="91" width="5.1" height="5.8" fill="#36AE48" />
<rect x="453.3" y="94" width="5.1" height="2.8" fill="#A3CCEF" />
<rect x="458.4" y="92.1" width="5.1" height="4.7" fill="#0B76D8" />
<rect x="465" y="94.2" width="5.1" height="2.6" fill="#A1AED6" />
<rect x="470.1" y="93.3" width="5.1" height="3.5" fill="#0C2D87" />
<text font-size="6.9" fill="#000" text-anchor="middle" transform="translate(425.25 39.24)" stroke="#000" stroke-width="0.12">*** #</text>
<text font-size="6.9" fill="#000" text-anchor="middle" transform="translate(437.55 90.94)" stroke="#000" stroke-width="0.12">*</text>
<rect x="416.3" y="34.3" width="61.2" height="65.7" fill="none" stroke="#7A7A7A" stroke-width="0.9" />
<rect x="411.5" y="30.5" width="128" height="151" fill="none" stroke="#A3A3A3" stroke-width="1" />
</g>
<g>
<line x1="589.62" y1="30.2" x2="589.62" y2="181.3" stroke="#F1F1F1" stroke-width="0.6" />
<line x1="641.06" y1="30.2" x2="641.06" y2="181.3" stroke="#F1F1F1" stroke-width="0.6" />
<line x1="545.3" y1="156.68" x2="673.1" y2="156.68" stroke="#F1F1F1" stroke-width="0.6" />
<line x1="545.3" y1="121.23" x2="673.1" y2="121.23" stroke="#F1F1F1" stroke-width="0.6" />
<line x1="545.3" y1="85.78" x2="673.1" y2="85.78" stroke="#F1F1F1" stroke-width="0.6" />
<line x1="545.3" y1="50.33" x2="673.1" y2="50.33" stroke="#F1F1F1" stroke-width="0.6" />
<line x1="563.9" y1="30.2" x2="563.9" y2="181.3" stroke="#EBEBEB" stroke-width="1" />
<line x1="615.34" y1="30.2" x2="615.34" y2="181.3" stroke="#EBEBEB" stroke-width="1" />
<line x1="666.78" y1="30.2" x2="666.78" y2="181.3" stroke="#EBEBEB" stroke-width="1" />
<line x1="545.3" y1="174.4" x2="673.1" y2="174.4" stroke="#EBEBEB" stroke-width="1" />
<line x1="545.3" y1="138.95" x2="673.1" y2="138.95" stroke="#EBEBEB" stroke-width="1" />
<line x1="545.3" y1="103.5" x2="673.1" y2="103.5" stroke="#EBEBEB" stroke-width="1" />
<line x1="545.3" y1="68.05" x2="673.1" y2="68.05" stroke="#EBEBEB" stroke-width="1" />
<line x1="545.3" y1="32.6" x2="673.1" y2="32.6" stroke="#EBEBEB" stroke-width="1" />
<line x1="653.5" y1="30.7" x2="653.5" y2="181.3" stroke="#EE3B3B" stroke-width="1" stroke-dasharray="1,1"/>
<polyline points="551.04,106.1 563.9,106.8 576.76,107.2 589.62,106.3 602.48,103.3 615.34,100.5 628.2,90.6 641.06,93.7 653.92,87.6 660.35,80.2 666.78,38.1" fill="none" stroke="#D9623D" stroke-width="1.15" stroke-linejoin="round" stroke-linecap="round"/>
<polyline points="551.04,106.8 563.9,104 576.76,102 589.62,100.5 602.48,98 615.34,96.5 628.2,93 641.06,90.5 653.92,88.3 666.78,82" fill="none" stroke="#C0C61C" stroke-width="1.15" stroke-linejoin="round" stroke-linecap="round"/>
<polyline points="551.04,105.2 563.9,103 576.76,101.8 589.62,100 602.48,97.5 615.34,94.8 628.2,91.9 641.06,90.3 653.92,88.8 666.78,84.3" fill="none" stroke="#3DB34A" stroke-width="1.15" stroke-linejoin="round" stroke-linecap="round"/>
<polyline points="551.04,112.4 563.9,108.6 576.76,105.6 589.62,103.5 602.48,101 615.34,98.2 628.2,95 641.06,94.8 653.92,93.7 666.78,90.6" fill="none" stroke="#2B90E4" stroke-width="1.15" stroke-linejoin="round" stroke-linecap="round"/>
<polyline points="551.04,107.9 563.9,105 576.76,103.4 589.62,101.5 602.48,98.5 615.34,95.5 628.2,92.8 641.06,91.7 653.92,90.6 666.78,87.6" fill="none" stroke="#22398C" stroke-width="1.15" stroke-linejoin="round" stroke-linecap="round"/>
<text font-size="7.6" fill="#000" text-anchor="middle" transform="translate(667.3 38.56)" stroke="#000" stroke-width="0.12">***</text>
<rect x="548.8" y="34.3" width="63.3" height="68.7" fill="#FFFFFF" />
<rect x="548.8" y="34.3" width="61" height="66.1" fill="#FFFFFF" />
<line x1="548.8" y1="96.9" x2="609.8" y2="96.9" stroke="#EBEBEB" stroke-width="0.8" />
<line x1="548.8" y1="77" x2="609.8" y2="77" stroke="#EBEBEB" stroke-width="0.8" />
<line x1="548.8" y1="57.1" x2="609.8" y2="57.1" stroke="#EBEBEB" stroke-width="0.8" />
<line x1="548.8" y1="37.2" x2="609.8" y2="37.2" stroke="#EBEBEB" stroke-width="0.8" />
<line x1="555.8" y1="34.3" x2="555.8" y2="100.4" stroke="#EBEBEB" stroke-width="0.8" />
<line x1="567.5" y1="34.3" x2="567.5" y2="100.4" stroke="#EBEBEB" stroke-width="0.8" />
<line x1="579.2" y1="34.3" x2="579.2" y2="100.4" stroke="#EBEBEB" stroke-width="0.8" />
<line x1="590.9" y1="34.3" x2="590.9" y2="100.4" stroke="#EBEBEB" stroke-width="0.8" />
<line x1="602.6" y1="34.3" x2="602.6" y2="100.4" stroke="#EBEBEB" stroke-width="0.8" />
<rect x="550.7" y="92.2" width="5.1" height="4.7" fill="#EDBDAF" />
<rect x="555.8" y="55.3" width="5.1" height="41.6" fill="#D65F3B" />
<rect x="562.4" y="93.4" width="5.1" height="3.5" fill="#E4E69C" />
<rect x="567.5" y="92" width="5.1" height="4.9" fill="#BCC20E" />
<rect x="574.1" y="94.2" width="5.1" height="2.7" fill="#B5DFB6" />
<rect x="579.2" y="93.2" width="5.1" height="3.7" fill="#36AE48" />
<rect x="585.8" y="94.3" width="5.1" height="2.6" fill="#A3CCEF" />
<rect x="590.9" y="93.4" width="5.1" height="3.5" fill="#0B76D8" />
<rect x="597.5" y="94.5" width="5.1" height="2.4" fill="#A1AED6" />
<rect x="602.6" y="94.2" width="5.1" height="2.7" fill="#0C2D87" />
<text font-size="6.9" fill="#000" text-anchor="middle" transform="translate(558.35 55.74)" stroke="#000" stroke-width="0.12">***</text>
<rect x="548.8" y="34.3" width="61" height="66.1" fill="none" stroke="#7A7A7A" stroke-width="0.9" />
<rect x="545.5" y="30.5" width="128" height="151" fill="none" stroke="#A3A3A3" stroke-width="1" />
</g>
<g>
<line x1="322.02" y1="186.6" x2="322.02" y2="336.3" stroke="#F1F1F1" stroke-width="0.6" />
<line x1="373.46" y1="186.6" x2="373.46" y2="336.3" stroke="#F1F1F1" stroke-width="0.6" />
<line x1="277.7" y1="312.38" x2="405.5" y2="312.38" stroke="#F1F1F1" stroke-width="0.6" />
<line x1="277.7" y1="276.93" x2="405.5" y2="276.93" stroke="#F1F1F1" stroke-width="0.6" />
<line x1="277.7" y1="241.48" x2="405.5" y2="241.48" stroke="#F1F1F1" stroke-width="0.6" />
<line x1="277.7" y1="206.03" x2="405.5" y2="206.03" stroke="#F1F1F1" stroke-width="0.6" />
<line x1="296.3" y1="186.6" x2="296.3" y2="336.3" stroke="#EBEBEB" stroke-width="1" />
<line x1="347.74" y1="186.6" x2="347.74" y2="336.3" stroke="#EBEBEB" stroke-width="1" />
<line x1="399.18" y1="186.6" x2="399.18" y2="336.3" stroke="#EBEBEB" stroke-width="1" />
<line x1="277.7" y1="330.1" x2="405.5" y2="330.1" stroke="#EBEBEB" stroke-width="1" />
<line x1="277.7" y1="294.65" x2="405.5" y2="294.65" stroke="#EBEBEB" stroke-width="1" />
<line x1="277.7" y1="259.2" x2="405.5" y2="259.2" stroke="#EBEBEB" stroke-width="1" />
<line x1="277.7" y1="223.75" x2="405.5" y2="223.75" stroke="#EBEBEB" stroke-width="1" />
<line x1="277.7" y1="188.3" x2="405.5" y2="188.3" stroke="#EBEBEB" stroke-width="1" />
<line x1="386.5" y1="187.1" x2="386.5" y2="336.3" stroke="#EE3B3B" stroke-width="1" stroke-dasharray="1,1"/>
<polyline points="283.44,312.7 296.3,309.6 309.16,305.5 322.02,302.1 334.88,299.9 347.74,297.6 360.6,294.7 373.46,291.6 386.32,289.3 392.75,274 399.18,232.4" fill="none" stroke="#D9623D" stroke-width="1.15" stroke-linejoin="round" stroke-linecap="round"/>
<polyline points="283.44,305.5 296.3,303.3 309.16,300.6 322.02,298.3 334.88,296.1 347.74,293.6 360.6,290.9 373.46,288.6 386.32,286.8 399.18,280.8" fill="none" stroke="#C0C61C" stroke-width="1.15" stroke-linejoin="round" stroke-linecap="round"/>
<polyline points="283.44,309 296.3,306.5 309.16,303.5 322.02,301 334.88,298.5 347.74,296.5 360.6,294 373.46,292 386.32,290.5 399.18,288" fill="none" stroke="#3DB34A" stroke-width="1.15" stroke-linejoin="round" stroke-linecap="round"/>
<polyline points="283.44,308.2 296.3,305.5 309.16,302.8 322.02,300.5 334.88,298 347.74,296 360.6,293.5 373.46,291.5 386.32,291 399.18,289.8" fill="none" stroke="#2B90E4" stroke-width="1.15" stroke-linejoin="round" stroke-linecap="round"/>
<polyline points="283.44,307.8 296.3,304.4 309.16,301.5 322.02,298.8 334.88,296.5 347.74,294.3 360.6,292 373.46,290.2 386.32,289.8 399.18,287.1" fill="none" stroke="#22398C" stroke-width="1.15" stroke-linejoin="round" stroke-linecap="round"/>
<text font-size="7.6" fill="#000" text-anchor="middle" transform="translate(399.3 231.66)" stroke="#000" stroke-width="0.12">***</text>
<rect x="280.7" y="188.1" width="16" height="68" fill="#FFFFFF" />
<rect x="295.7" y="254.6" width="63.8" height="15" fill="#FFFFFF" />
<rect x="357.5" y="188.1" width="2" height="68.5" fill="#FFFFFF" />
<rect x="296.7" y="190.1" width="60.8" height="65.5" fill="#FFFFFF" />
<line x1="296.7" y1="252.2" x2="357.5" y2="252.2" stroke="#EBEBEB" stroke-width="0.8" />
<line x1="296.7" y1="232.3" x2="357.5" y2="232.3" stroke="#EBEBEB" stroke-width="0.8" />
<line x1="296.7" y1="212.4" x2="357.5" y2="212.4" stroke="#EBEBEB" stroke-width="0.8" />
<line x1="296.7" y1="192.5" x2="357.5" y2="192.5" stroke="#EBEBEB" stroke-width="0.8" />
<line x1="303.7" y1="190.1" x2="303.7" y2="255.6" stroke="#EBEBEB" stroke-width="0.8" />
<line x1="315.4" y1="190.1" x2="315.4" y2="255.6" stroke="#EBEBEB" stroke-width="0.8" />
<line x1="327.1" y1="190.1" x2="327.1" y2="255.6" stroke="#EBEBEB" stroke-width="0.8" />
<line x1="338.8" y1="190.1" x2="338.8" y2="255.6" stroke="#EBEBEB" stroke-width="0.8" />
<line x1="350.5" y1="190.1" x2="350.5" y2="255.6" stroke="#EBEBEB" stroke-width="0.8" />
<rect x="298.6" y="249.3" width="5.1" height="2.9" fill="#EDBDAF" />
<rect x="303.7" y="211.7" width="5.1" height="40.5" fill="#D65F3B" />
<rect x="310.3" y="249.5" width="5.1" height="2.7" fill="#E4E69C" />
<rect x="315.4" y="247" width="5.1" height="5.2" fill="#BCC20E" />
<rect x="322" y="249.9" width="5.1" height="2.3" fill="#B5DFB6" />
<rect x="327.1" y="248.1" width="5.1" height="4.1" fill="#36AE48" />
<rect x="333.7" y="250" width="5.1" height="2.2" fill="#A3CCEF" />
<rect x="338.8" y="249.3" width="5.1" height="2.9" fill="#0B76D8" />
<rect x="345.4" y="250" width="5.1" height="2.2" fill="#A1AED6" />
<rect x="350.5" y="249.3" width="5.1" height="2.9" fill="#0C2D87" />
<text font-size="6.9" fill="#000" text-anchor="middle" transform="translate(306.25 210.94)" stroke="#000" stroke-width="0.12">***</text>
<text font-size="6.9" fill="#000" text-anchor="middle" transform="translate(317.95 247.64)" stroke="#000" stroke-width="0.12">*</text>
<text font-size="6.9" fill="#000" text-anchor="middle" transform="translate(353.05 249.94)" stroke="#000" stroke-width="0.12">***</text>
<rect x="296.7" y="190.1" width="60.8" height="65.5" fill="none" stroke="#7A7A7A" stroke-width="0.9" />
<line x1="295.1" y1="252.2" x2="296.7" y2="252.2" stroke="#555" stroke-width="0.6" />
<text font-size="5.8" fill="#222222" text-anchor="end" transform="translate(294.7 254.49) scale(1 1.12)" stroke="#222222" stroke-width="0.1">0</text>
<line x1="295.1" y1="232.3" x2="296.7" y2="232.3" stroke="#555" stroke-width="0.6" />
<text font-size="5.8" fill="#222222" text-anchor="end" transform="translate(294.7 234.59) scale(1 1.12)" stroke="#222222" stroke-width="0.1">20</text>
<line x1="295.1" y1="212.4" x2="296.7" y2="212.4" stroke="#555" stroke-width="0.6" />
<text font-size="5.8" fill="#222222" text-anchor="end" transform="translate(294.7 214.69) scale(1 1.12)" stroke="#222222" stroke-width="0.1">40</text>
<line x1="295.1" y1="192.5" x2="296.7" y2="192.5" stroke="#555" stroke-width="0.6" />
<text font-size="5.8" fill="#222222" text-anchor="end" transform="translate(294.7 194.79) scale(1 1.12)" stroke="#222222" stroke-width="0.1">60</text>
<line x1="303.7" y1="255.6" x2="303.7" y2="257.1" stroke="#555" stroke-width="0.6" />
<text font-size="5.8" fill="#222222" text-anchor="middle" transform="translate(303.7 262.7) scale(1 1.12)" stroke="#222222" stroke-width="0.1">15</text>
<line x1="315.4" y1="255.6" x2="315.4" y2="257.1" stroke="#555" stroke-width="0.6" />
<text font-size="5.8" fill="#222222" text-anchor="middle" transform="translate(315.4 262.7) scale(1 1.12)" stroke="#222222" stroke-width="0.1">30</text>
<line x1="327.1" y1="255.6" x2="327.1" y2="257.1" stroke="#555" stroke-width="0.6" />
<text font-size="5.8" fill="#222222" text-anchor="middle" transform="translate(327.1 262.7) scale(1 1.12)" stroke="#222222" stroke-width="0.1">45</text>
<line x1="338.8" y1="255.6" x2="338.8" y2="257.1" stroke="#555" stroke-width="0.6" />
<text font-size="5.8" fill="#222222" text-anchor="middle" transform="translate(338.8 262.7) scale(1 1.12)" stroke="#222222" stroke-width="0.1">60</text>
<line x1="350.5" y1="255.6" x2="350.5" y2="257.1" stroke="#555" stroke-width="0.6" />
<text font-size="5.8" fill="#222222" text-anchor="middle" transform="translate(350.5 262.7) scale(1 1.12)" stroke="#222222" stroke-width="0.1">90</text>
<text font-size="6.1" fill="#222" text-anchor="middle" transform="translate(327.1 269.2) scale(1 1.12)" stroke="#222" stroke-width="0.1">Shelter time (s)</text>
<text font-size="6.1" fill="#222" text-anchor="middle" transform="translate(286.1 222.85) rotate(-90) scale(1 1.12)" stroke="#222" stroke-width="0.1">% New cases</text>
<rect x="277.5" y="186.5" width="128" height="150" fill="none" stroke="#A3A3A3" stroke-width="1" />
</g>
<line x1="274.2" y1="330.1" x2="277.7" y2="330.1" stroke="#4D4D4D" stroke-width="0.7" />
<text font-size="7.7" fill="#222222" text-anchor="end" transform="translate(272.3 332.85) scale(1 1.12)" stroke="#222222" stroke-width="0.1">0</text>
<line x1="274.2" y1="294.65" x2="277.7" y2="294.65" stroke="#4D4D4D" stroke-width="0.7" />
<text font-size="7.7" fill="#222222" text-anchor="end" transform="translate(272.3 297.4) scale(1 1.12)" stroke="#222222" stroke-width="0.1">20</text>
<line x1="274.2" y1="259.2" x2="277.7" y2="259.2" stroke="#4D4D4D" stroke-width="0.7" />
<text font-size="7.7" fill="#222222" text-anchor="end" transform="translate(272.3 261.95) scale(1 1.12)" stroke="#222222" stroke-width="0.1">40</text>
<line x1="274.2" y1="223.75" x2="277.7" y2="223.75" stroke="#4D4D4D" stroke-width="0.7" />
<text font-size="7.7" fill="#222222" text-anchor="end" transform="translate(272.3 226.5) scale(1 1.12)" stroke="#222222" stroke-width="0.1">60</text>
<line x1="274.2" y1="188.3" x2="277.7" y2="188.3" stroke="#4D4D4D" stroke-width="0.7" />
<text font-size="7.7" fill="#222222" text-anchor="end" transform="translate(272.3 191.05) scale(1 1.12)" stroke="#222222" stroke-width="0.1">80</text>
<line x1="296.3" y1="336.3" x2="296.3" y2="339.8" stroke="#4D4D4D" stroke-width="0.7" />
<text font-size="7.7" fill="#222222" text-anchor="middle" transform="translate(296.3 348.5) scale(1 1.12)" stroke="#222222" stroke-width="0.1">2016</text>
<line x1="347.74" y1="336.3" x2="347.74" y2="339.8" stroke="#4D4D4D" stroke-width="0.7" />
<text font-size="7.7" fill="#222222" text-anchor="middle" transform="translate(347.74 348.5) scale(1 1.12)" stroke="#222222" stroke-width="0.1">2020</text>
<line x1="399.18" y1="336.3" x2="399.18" y2="339.8" stroke="#4D4D4D" stroke-width="0.7" />
<text font-size="7.7" fill="#222222" text-anchor="middle" transform="translate(399.18 348.5) scale(1 1.12)" stroke="#222222" stroke-width="0.1">2024</text>
<g>
<line x1="455.82" y1="186.6" x2="455.82" y2="336.3" stroke="#F1F1F1" stroke-width="0.6" />
<line x1="507.26" y1="186.6" x2="507.26" y2="336.3" stroke="#F1F1F1" stroke-width="0.6" />
<line x1="411.5" y1="312.38" x2="539.3" y2="312.38" stroke="#F1F1F1" stroke-width="0.6" />
<line x1="411.5" y1="276.93" x2="539.3" y2="276.93" stroke="#F1F1F1" stroke-width="0.6" />
<line x1="411.5" y1="241.48" x2="539.3" y2="241.48" stroke="#F1F1F1" stroke-width="0.6" />
<line x1="411.5" y1="206.03" x2="539.3" y2="206.03" stroke="#F1F1F1" stroke-width="0.6" />
<line x1="430.1" y1="186.6" x2="430.1" y2="336.3" stroke="#EBEBEB" stroke-width="1" />
<line x1="481.54" y1="186.6" x2="481.54" y2="336.3" stroke="#EBEBEB" stroke-width="1" />
<line x1="532.98" y1="186.6" x2="532.98" y2="336.3" stroke="#EBEBEB" stroke-width="1" />
<line x1="411.5" y1="330.1" x2="539.3" y2="330.1" stroke="#EBEBEB" stroke-width="1" />
<line x1="411.5" y1="294.65" x2="539.3" y2="294.65" stroke="#EBEBEB" stroke-width="1" />
<line x1="411.5" y1="259.2" x2="539.3" y2="259.2" stroke="#EBEBEB" stroke-width="1" />
<line x1="411.5" y1="223.75" x2="539.3" y2="223.75" stroke="#EBEBEB" stroke-width="1" />
<line x1="411.5" y1="188.3" x2="539.3" y2="188.3" stroke="#EBEBEB" stroke-width="1" />
<line x1="519.5" y1="187.1" x2="519.5" y2="336.3" stroke="#EE3B3B" stroke-width="1" stroke-dasharray="1,1"/>
<polyline points="417.24,296.5 430.1,293.6 442.96,293.1 455.82,293.1 468.68,288.6 481.54,284.8 494.4,284.8 507.26,283 520.12,278.5 526.55,258.3 532.98,226.8" fill="none" stroke="#D9623D" stroke-width="1.15" stroke-linejoin="round" stroke-linecap="round"/>
<polyline points="417.24,292.7 430.1,289.3 442.96,286.4 455.82,283.5 468.68,280.8 481.54,278.1 494.4,275.8 507.26,273.3 520.12,271.3 532.98,267.3" fill="none" stroke="#C0C61C" stroke-width="1.15" stroke-linejoin="round" stroke-linecap="round"/>
<polyline points="417.24,297.6 430.1,294.3 442.96,291.5 455.82,288.5 468.68,285.8 481.54,283 494.4,280.8 507.26,278.5 520.12,275.1 532.98,271.8" fill="none" stroke="#3DB34A" stroke-width="1.15" stroke-linejoin="round" stroke-linecap="round"/>
<polyline points="417.24,295.4 430.1,292.5 442.96,289.5 455.82,286.8 468.68,284 481.54,281.2 494.4,279 507.26,277 520.12,275.1 532.98,272.9" fill="none" stroke="#2B90E4" stroke-width="1.15" stroke-linejoin="round" stroke-linecap="round"/>
<polyline points="417.24,294.3 430.1,290.9 442.96,288 455.82,285.3 468.68,282.6 481.54,279.6 494.4,277.4 507.26,275.1 520.12,273.3 532.98,271.1" fill="none" stroke="#22398C" stroke-width="1.15" stroke-linejoin="round" stroke-linecap="round"/>
<text font-size="7.6" fill="#000" text-anchor="middle" transform="translate(533.1 227.76)" stroke="#000" stroke-width="0.12">***</text>
<rect x="416.3" y="190.3" width="63.5" height="67.7" fill="#FFFFFF" />
<rect x="416.3" y="190.3" width="61.2" height="65.1" fill="#FFFFFF" />
<line x1="416.3" y1="252.6" x2="477.5" y2="252.6" stroke="#EBEBEB" stroke-width="0.8" />
<line x1="416.3" y1="232.7" x2="477.5" y2="232.7" stroke="#EBEBEB" stroke-width="0.8" />
<line x1="416.3" y1="212.8" x2="477.5" y2="212.8" stroke="#EBEBEB" stroke-width="0.8" />
<line x1="416.3" y1="192.9" x2="477.5" y2="192.9" stroke="#EBEBEB" stroke-width="0.8" />
<line x1="423.3" y1="190.3" x2="423.3" y2="255.4" stroke="#EBEBEB" stroke-width="0.8" />
<line x1="435" y1="190.3" x2="435" y2="255.4" stroke="#EBEBEB" stroke-width="0.8" />
<line x1="446.7" y1="190.3" x2="446.7" y2="255.4" stroke="#EBEBEB" stroke-width="0.8" />
<line x1="458.4" y1="190.3" x2="458.4" y2="255.4" stroke="#EBEBEB" stroke-width="0.8" />
<line x1="470.1" y1="190.3" x2="470.1" y2="255.4" stroke="#EBEBEB" stroke-width="0.8" />
<rect x="418.2" y="249" width="5.1" height="3.6" fill="#EDBDAF" />
<rect x="423.3" y="211" width="5.1" height="41.6" fill="#D65F3B" />
<rect x="429.9" y="249.2" width="5.1" height="3.4" fill="#E4E69C" />
<rect x="435" y="248.3" width="5.1" height="4.3" fill="#BCC20E" />
<rect x="441.6" y="250" width="5.1" height="2.6" fill="#B5DFB6" />
<rect x="446.7" y="248.1" width="5.1" height="4.5" fill="#36AE48" />
<rect x="453.3" y="249.2" width="5.1" height="3.4" fill="#A3CCEF" />
<rect x="458.4" y="249.9" width="5.1" height="2.7" fill="#0B76D8" />
<rect x="465" y="249.9" width="5.1" height="2.7" fill="#A1AED6" />
<rect x="470.1" y="249.5" width="5.1" height="3.1" fill="#1EC3CB" />
<text font-size="6.9" fill="#000" text-anchor="middle" transform="translate(425.85 210.94)" stroke="#000" stroke-width="0.12">***</text>
<rect x="416.3" y="190.3" width="61.2" height="65.1" fill="none" stroke="#7A7A7A" stroke-width="0.9" />
<rect x="411.5" y="186.5" width="128" height="150" fill="none" stroke="#A3A3A3" stroke-width="1" />
</g>
<line x1="430.1" y1="336.3" x2="430.1" y2="339.8" stroke="#4D4D4D" stroke-width="0.7" />
<text font-size="7.7" fill="#222222" text-anchor="middle" transform="translate(430.1 348.5) scale(1 1.12)" stroke="#222222" stroke-width="0.1">2016</text>
<line x1="481.54" y1="336.3" x2="481.54" y2="339.8" stroke="#4D4D4D" stroke-width="0.7" />
<text font-size="7.7" fill="#222222" text-anchor="middle" transform="translate(481.54 348.5) scale(1 1.12)" stroke="#222222" stroke-width="0.1">2020</text>
<line x1="532.98" y1="336.3" x2="532.98" y2="339.8" stroke="#4D4D4D" stroke-width="0.7" />
<text font-size="7.7" fill="#222222" text-anchor="middle" transform="translate(532.98 348.5) scale(1 1.12)" stroke="#222222" stroke-width="0.1">2024</text>
<g>
<line x1="589.62" y1="186.6" x2="589.62" y2="336.3" stroke="#F1F1F1" stroke-width="0.6" />
<line x1="641.06" y1="186.6" x2="641.06" y2="336.3" stroke="#F1F1F1" stroke-width="0.6" />
<line x1="545.3" y1="312.38" x2="673.1" y2="312.38" stroke="#F1F1F1" stroke-width="0.6" />
<line x1="545.3" y1="276.93" x2="673.1" y2="276.93" stroke="#F1F1F1" stroke-width="0.6" />
<line x1="545.3" y1="241.48" x2="673.1" y2="241.48" stroke="#F1F1F1" stroke-width="0.6" />
<line x1="545.3" y1="206.03" x2="673.1" y2="206.03" stroke="#F1F1F1" stroke-width="0.6" />
<line x1="563.9" y1="186.6" x2="563.9" y2="336.3" stroke="#EBEBEB" stroke-width="1" />
<line x1="615.34" y1="186.6" x2="615.34" y2="336.3" stroke="#EBEBEB" stroke-width="1" />
<line x1="666.78" y1="186.6" x2="666.78" y2="336.3" stroke="#EBEBEB" stroke-width="1" />
<line x1="545.3" y1="330.1" x2="673.1" y2="330.1" stroke="#EBEBEB" stroke-width="1" />
<line x1="545.3" y1="294.65" x2="673.1" y2="294.65" stroke="#EBEBEB" stroke-width="1" />
<line x1="545.3" y1="259.2" x2="673.1" y2="259.2" stroke="#EBEBEB" stroke-width="1" />
<line x1="545.3" y1="223.75" x2="673.1" y2="223.75" stroke="#EBEBEB" stroke-width="1" />
<line x1="545.3" y1="188.3" x2="673.1" y2="188.3" stroke="#EBEBEB" stroke-width="1" />
<line x1="653.5" y1="187.1" x2="653.5" y2="336.3" stroke="#EE3B3B" stroke-width="1" stroke-dasharray="1,1"/>
<polyline points="551.04,295.4 563.9,293.1 576.76,288 589.62,297 602.48,288.6 615.34,276.7 628.2,280.8 641.06,274.5 653.92,278.5 660.35,263.9 666.78,233.1" fill="none" stroke="#D9623D" stroke-width="1.15" stroke-linejoin="round" stroke-linecap="round"/>
<polyline points="551.04,285.7 563.9,282.5 576.76,279.6 589.62,277.5 602.48,276.2 615.34,275.1 628.2,273.5 641.06,271.8 653.92,270.6 666.78,269.5" fill="none" stroke="#C0C61C" stroke-width="1.15" stroke-linejoin="round" stroke-linecap="round"/>
<polyline points="551.04,289.8 563.9,287.5 576.76,285.3 589.62,283 602.48,281.2 615.34,279.6 628.2,277.4 641.06,275.1 653.92,273.6 666.78,271.8" fill="none" stroke="#3DB34A" stroke-width="1.15" stroke-linejoin="round" stroke-linecap="round"/>
<polyline points="551.04,288 563.9,285.7 576.76,284.1 589.62,283 602.48,278.5 615.34,275.8 628.2,274 641.06,272.9 653.92,272.2 666.78,270.6" fill="none" stroke="#2B90E4" stroke-width="1.15" stroke-linejoin="round" stroke-linecap="round"/>
<polyline points="551.04,286.4 563.9,283 576.76,280.3 589.62,278.5 602.48,276.3 615.34,274.5 628.2,272.9 641.06,270.6 653.92,269.5 666.78,267.7" fill="none" stroke="#22398C" stroke-width="1.15" stroke-linejoin="round" stroke-linecap="round"/>
<text font-size="7.6" fill="#000" text-anchor="middle" transform="translate(667 233.86)" stroke="#000" stroke-width="0.12">***</text>
<rect x="548.8" y="190.3" width="63.3" height="67.9" fill="#FFFFFF" />
<rect x="548.8" y="190.3" width="61" height="65.3" fill="#FFFFFF" />
<line x1="548.8" y1="252.2" x2="609.8" y2="252.2" stroke="#EBEBEB" stroke-width="0.8" />
<line x1="548.8" y1="232.3" x2="609.8" y2="232.3" stroke="#EBEBEB" stroke-width="0.8" />
<line x1="548.8" y1="212.4" x2="609.8" y2="212.4" stroke="#EBEBEB" stroke-width="0.8" />
<line x1="548.8" y1="192.5" x2="609.8" y2="192.5" stroke="#EBEBEB" stroke-width="0.8" />
<line x1="555.8" y1="190.3" x2="555.8" y2="255.6" stroke="#EBEBEB" stroke-width="0.8" />
<line x1="567.5" y1="190.3" x2="567.5" y2="255.6" stroke="#EBEBEB" stroke-width="0.8" />
<line x1="579.2" y1="190.3" x2="579.2" y2="255.6" stroke="#EBEBEB" stroke-width="0.8" />
<line x1="590.9" y1="190.3" x2="590.9" y2="255.6" stroke="#EBEBEB" stroke-width="0.8" />
<line x1="602.6" y1="190.3" x2="602.6" y2="255.6" stroke="#EBEBEB" stroke-width="0.8" />
<rect x="550.7" y="251.5" width="5.1" height="0.7" fill="#EDBDAF" />
<rect x="555.8" y="212.8" width="5.1" height="39.4" fill="#D65F3B" />
<rect x="562.4" y="249.9" width="5.1" height="2.3" fill="#E4E69C" />
<rect x="567.5" y="249.3" width="5.1" height="2.9" fill="#BCC20E" />
<rect x="574.1" y="250" width="5.1" height="2.2" fill="#B5DFB6" />
<rect x="579.2" y="249.9" width="5.1" height="2.3" fill="#36AE48" />
<rect x="585.8" y="250" width="5.1" height="2.2" fill="#A3CCEF" />
<rect x="590.9" y="250.4" width="5.1" height="1.8" fill="#0B76D8" />
<rect x="597.5" y="250.5" width="5.1" height="1.7" fill="#A1AED6" />
<rect x="602.6" y="249.7" width="5.1" height="2.5" fill="#0C2D87" />
<text font-size="6.9" fill="#000" text-anchor="middle" transform="translate(558.35 212.54)" stroke="#000" stroke-width="0.12">***</text>
<rect x="548.8" y="190.3" width="61" height="65.3" fill="none" stroke="#7A7A7A" stroke-width="0.9" />
<rect x="545.5" y="186.5" width="128" height="150" fill="none" stroke="#A3A3A3" stroke-width="1" />
</g>
<line x1="563.9" y1="336.3" x2="563.9" y2="339.8" stroke="#4D4D4D" stroke-width="0.7" />
<text font-size="7.7" fill="#222222" text-anchor="middle" transform="translate(563.9 348.5) scale(1 1.12)" stroke="#222222" stroke-width="0.1">2016</text>
<line x1="615.34" y1="336.3" x2="615.34" y2="339.8" stroke="#4D4D4D" stroke-width="0.7" />
<text font-size="7.7" fill="#222222" text-anchor="middle" transform="translate(615.34 348.5) scale(1 1.12)" stroke="#222222" stroke-width="0.1">2020</text>
<line x1="666.78" y1="336.3" x2="666.78" y2="339.8" stroke="#4D4D4D" stroke-width="0.7" />
<text font-size="7.7" fill="#222222" text-anchor="middle" transform="translate(666.78 348.5) scale(1 1.12)" stroke="#222222" stroke-width="0.1">2024</text>
<g>
<line x1="69.66" y1="399.4" x2="69.66" y2="540.3" stroke="#F1F1F1" stroke-width="0.6" />
<line x1="110.18" y1="399.4" x2="110.18" y2="540.3" stroke="#F1F1F1" stroke-width="0.6" />
<line x1="34.4" y1="516.35" x2="135.2" y2="516.35" stroke="#F1F1F1" stroke-width="0.6" />
<line x1="34.4" y1="477.85" x2="135.2" y2="477.85" stroke="#F1F1F1" stroke-width="0.6" />
<line x1="34.4" y1="439.35" x2="135.2" y2="439.35" stroke="#F1F1F1" stroke-width="0.6" />
<line x1="34.4" y1="400.85" x2="135.2" y2="400.85" stroke="#F1F1F1" stroke-width="0.6" />
<line x1="49.4" y1="399.4" x2="49.4" y2="540.3" stroke="#EBEBEB" stroke-width="1" />
<line x1="89.92" y1="399.4" x2="89.92" y2="540.3" stroke="#EBEBEB" stroke-width="1" />
<line x1="130.44" y1="399.4" x2="130.44" y2="540.3" stroke="#EBEBEB" stroke-width="1" />
<line x1="34.4" y1="535.6" x2="135.2" y2="535.6" stroke="#EBEBEB" stroke-width="1" />
<line x1="34.4" y1="497.1" x2="135.2" y2="497.1" stroke="#EBEBEB" stroke-width="1" />
<line x1="34.4" y1="458.6" x2="135.2" y2="458.6" stroke="#EBEBEB" stroke-width="1" />
<line x1="34.4" y1="420.1" x2="135.2" y2="420.1" stroke="#EBEBEB" stroke-width="1" />
<line x1="120.5" y1="399.9" x2="120.5" y2="540.3" stroke="#EE3B3B" stroke-width="1" stroke-dasharray="1,1"/>
<polyline points="39.27,523.4 49.4,524.5 59.53,521.9 69.66,520.2 79.79,519.2 89.92,520.9 100.05,516.4 110.18,515 120.31,509.7 130.44,477" fill="none" stroke="#D9623D" stroke-width="1.15" stroke-linejoin="round" stroke-linecap="round"/>
<polyline points="39.27,522.8 49.4,522.3 59.53,520.7 69.66,519.8 79.79,518.5 89.92,517.7 100.05,515.6 110.18,513.5 120.31,511.8 130.44,510.7" fill="none" stroke="#C0C61C" stroke-width="1.15" stroke-linejoin="round" stroke-linecap="round"/>
<polyline points="39.27,522.8 49.4,522.8 59.53,521 69.66,520 79.79,518.8 89.92,517.5 100.05,515.3 110.18,513.3 120.31,512 130.44,511.8" fill="none" stroke="#3DB34A" stroke-width="1.15" stroke-linejoin="round" stroke-linecap="round"/>
<polyline points="39.27,521.9 49.4,521.3 59.53,519.8 69.66,519 79.79,518.3 89.92,516.5 100.05,514.5 110.18,513 120.31,511.8 130.44,513.5" fill="none" stroke="#2B90E4" stroke-width="1.15" stroke-linejoin="round" stroke-linecap="round"/>
<polyline points="39.27,521.3 49.4,520.7 59.53,519.8 69.66,518.5 79.79,518.1 89.92,517.1 100.05,515 110.18,513.5 120.31,511.4 130.44,514.3" fill="none" stroke="#22398C" stroke-width="1.15" stroke-linejoin="round" stroke-linecap="round"/>
<text font-size="7.6" fill="#000" text-anchor="middle" transform="translate(115.4 510.26)" stroke="#000" stroke-width="0.12">*</text>
<rect x="41" y="401.3" width="16" height="61.5" fill="#FFFFFF" />
<rect x="56" y="461.3" width="51.9" height="16" fill="#FFFFFF" />
<rect x="105.9" y="401.3" width="2" height="62" fill="#FFFFFF" />
<rect x="57" y="403.3" width="48.9" height="59" fill="#FFFFFF" />
<line x1="57" y1="459.8" x2="105.9" y2="459.8" stroke="#EBEBEB" stroke-width="0.8" />
<line x1="57" y1="442.7" x2="105.9" y2="442.7" stroke="#EBEBEB" stroke-width="0.8" />
<line x1="57" y1="425.6" x2="105.9" y2="425.6" stroke="#EBEBEB" stroke-width="0.8" />
<line x1="57" y1="408.5" x2="105.9" y2="408.5" stroke="#EBEBEB" stroke-width="0.8" />
<line x1="63.3" y1="403.3" x2="63.3" y2="462.3" stroke="#EBEBEB" stroke-width="0.8" />
<line x1="72.7" y1="403.3" x2="72.7" y2="462.3" stroke="#EBEBEB" stroke-width="0.8" />
<line x1="82.1" y1="403.3" x2="82.1" y2="462.3" stroke="#EBEBEB" stroke-width="0.8" />
<line x1="91.5" y1="403.3" x2="91.5" y2="462.3" stroke="#EBEBEB" stroke-width="0.8" />
<line x1="100.9" y1="403.3" x2="100.9" y2="462.3" stroke="#EBEBEB" stroke-width="0.8" />
<rect x="58.6" y="450" width="4.7" height="9.8" fill="#EDBDAF" />
<rect x="63.3" y="427.1" width="4.7" height="32.7" fill="#D65F3B" />
<rect x="68" y="449.2" width="4.7" height="10.6" fill="#E4E69C" />
<rect x="72.7" y="448" width="4.7" height="11.8" fill="#BCC20E" />
<rect x="77.4" y="450" width="4.7" height="9.8" fill="#B5DFB6" />
<rect x="82.1" y="448.8" width="4.7" height="11" fill="#36AE48" />
<rect x="86.8" y="450" width="4.7" height="9.8" fill="#A3CCEF" />
<rect x="91.5" y="448.8" width="4.7" height="11" fill="#0B76D8" />
<rect x="96.2" y="450" width="4.7" height="9.8" fill="#A1AED6" />
<rect x="100.9" y="449.2" width="4.7" height="10.6" fill="#0C2D87" />
<text font-size="6.9" fill="#000" text-anchor="middle" transform="translate(65.65 427.04)" stroke="#000" stroke-width="0.12">***</text>
<text font-size="6.9" fill="#000" text-anchor="middle" transform="translate(75.05 448.74)" stroke="#000" stroke-width="0.12">*</text>
<text font-size="6.9" fill="#000" text-anchor="middle" transform="translate(103.25 449.84)" stroke="#000" stroke-width="0.12">*</text>
<rect x="57" y="403.3" width="48.9" height="59" fill="none" stroke="#7A7A7A" stroke-width="0.9" />
<line x1="55.4" y1="459.8" x2="57" y2="459.8" stroke="#555" stroke-width="0.6" />
<text font-size="6.1" fill="#222222" text-anchor="end" transform="translate(55 462.2) scale(1 1.12)" stroke="#222222" stroke-width="0.1">0</text>
<line x1="55.4" y1="442.7" x2="57" y2="442.7" stroke="#555" stroke-width="0.6" />
<text font-size="6.1" fill="#222222" text-anchor="end" transform="translate(55 445.1) scale(1 1.12)" stroke="#222222" stroke-width="0.1">10</text>
<line x1="55.4" y1="425.6" x2="57" y2="425.6" stroke="#555" stroke-width="0.6" />
<text font-size="6.1" fill="#222222" text-anchor="end" transform="translate(55 428) scale(1 1.12)" stroke="#222222" stroke-width="0.1">20</text>
<line x1="55.4" y1="408.5" x2="57" y2="408.5" stroke="#555" stroke-width="0.6" />
<text font-size="6.1" fill="#222222" text-anchor="end" transform="translate(55 410.9) scale(1 1.12)" stroke="#222222" stroke-width="0.1">30</text>
<line x1="63.3" y1="462.3" x2="63.3" y2="463.8" stroke="#555" stroke-width="0.6" />
<text font-size="6.1" fill="#222222" text-anchor="middle" transform="translate(63.3 469.2) scale(1 1.12)" stroke="#222222" stroke-width="0.1">15</text>
<line x1="72.7" y1="462.3" x2="72.7" y2="463.8" stroke="#555" stroke-width="0.6" />
<text font-size="6.1" fill="#222222" text-anchor="middle" transform="translate(72.7 469.2) scale(1 1.12)" stroke="#222222" stroke-width="0.1">30</text>
<line x1="82.1" y1="462.3" x2="82.1" y2="463.8" stroke="#555" stroke-width="0.6" />
<text font-size="6.1" fill="#222222" text-anchor="middle" transform="translate(82.1 469.2) scale(1 1.12)" stroke="#222222" stroke-width="0.1">45</text>
<line x1="91.5" y1="462.3" x2="91.5" y2="463.8" stroke="#555" stroke-width="0.6" />
<text font-size="6.1" fill="#222222" text-anchor="middle" transform="translate(91.5 469.2) scale(1 1.12)" stroke="#222222" stroke-width="0.1">60</text>
<line x1="100.9" y1="462.3" x2="100.9" y2="463.8" stroke="#555" stroke-width="0.6" />
<text font-size="6.1" fill="#222222" text-anchor="middle" transform="translate(100.9 469.2) scale(1 1.12)" stroke="#222222" stroke-width="0.1">90</text>
<text font-size="6.5" fill="#222" text-anchor="middle" transform="translate(81.45 477) scale(1 1.12)" stroke="#222" stroke-width="0.1">Shelter time (s)</text>
<text font-size="6.5" fill="#222" text-anchor="middle" transform="translate(46.4 434.3) rotate(-90) scale(1 1.12)" stroke="#222" stroke-width="0.1">% New cases</text>
<rect x="34.5" y="399.5" width="101" height="141" fill="none" stroke="#A3A3A3" stroke-width="1" />
</g>
<line x1="30.9" y1="535.6" x2="34.4" y2="535.6" stroke="#4D4D4D" stroke-width="0.7" />
<text font-size="7.7" fill="#222222" text-anchor="end" transform="translate(29.8 538.35) scale(1 1.12)" stroke="#222222" stroke-width="0.1">0</text>
<line x1="30.9" y1="497.1" x2="34.4" y2="497.1" stroke="#4D4D4D" stroke-width="0.7" />
<text font-size="7.7" fill="#222222" text-anchor="end" transform="translate(29.8 499.85) scale(1 1.12)" stroke="#222222" stroke-width="0.1">10</text>
<line x1="30.9" y1="458.6" x2="34.4" y2="458.6" stroke="#4D4D4D" stroke-width="0.7" />
<text font-size="7.7" fill="#222222" text-anchor="end" transform="translate(29.8 461.35) scale(1 1.12)" stroke="#222222" stroke-width="0.1">20</text>
<g>
<line x1="172.96" y1="399.4" x2="172.96" y2="540.3" stroke="#F1F1F1" stroke-width="0.6" />
<line x1="213.48" y1="399.4" x2="213.48" y2="540.3" stroke="#F1F1F1" stroke-width="0.6" />
<line x1="137.7" y1="516.35" x2="238.5" y2="516.35" stroke="#F1F1F1" stroke-width="0.6" />
<line x1="137.7" y1="477.85" x2="238.5" y2="477.85" stroke="#F1F1F1" stroke-width="0.6" />
<line x1="137.7" y1="439.35" x2="238.5" y2="439.35" stroke="#F1F1F1" stroke-width="0.6" />
<line x1="137.7" y1="400.85" x2="238.5" y2="400.85" stroke="#F1F1F1" stroke-width="0.6" />
<line x1="152.7" y1="399.4" x2="152.7" y2="540.3" stroke="#EBEBEB" stroke-width="1" />
<line x1="193.22" y1="399.4" x2="193.22" y2="540.3" stroke="#EBEBEB" stroke-width="1" />
<line x1="233.74" y1="399.4" x2="233.74" y2="540.3" stroke="#EBEBEB" stroke-width="1" />
<line x1="137.7" y1="535.6" x2="238.5" y2="535.6" stroke="#EBEBEB" stroke-width="1" />
<line x1="137.7" y1="497.1" x2="238.5" y2="497.1" stroke="#EBEBEB" stroke-width="1" />
<line x1="137.7" y1="458.6" x2="238.5" y2="458.6" stroke="#EBEBEB" stroke-width="1" />
<line x1="137.7" y1="420.1" x2="238.5" y2="420.1" stroke="#EBEBEB" stroke-width="1" />
<line x1="223.5" y1="399.9" x2="223.5" y2="540.3" stroke="#EE3B3B" stroke-width="1" stroke-dasharray="1,1"/>
<polyline points="142.57,488.6 152.7,491.4 162.83,491.2 172.96,481.9 183.09,483.4 193.22,484.8 203.35,486.5 213.48,488.2 223.61,474.3 233.74,429.6" fill="none" stroke="#D9623D" stroke-width="1.15" stroke-linejoin="round" stroke-linecap="round"/>
<polyline points="142.57,502.7 152.7,505.1 162.83,501.3 172.96,501.3 183.09,496 193.22,492.8 203.35,490.3 213.48,488.6 223.61,487.6 233.74,490.3" fill="none" stroke="#C0C61C" stroke-width="1.15" stroke-linejoin="round" stroke-linecap="round"/>
<polyline points="142.57,502.3 152.7,501.8 162.83,500.8 172.96,497 183.09,498.1 193.22,496 203.35,493.9 213.48,492.4 223.61,490.7 233.74,495.4" fill="none" stroke="#3DB34A" stroke-width="1.15" stroke-linejoin="round" stroke-linecap="round"/>
<polyline points="142.57,501.7 152.7,501.3 162.83,502.3 172.96,498.1 183.09,492.8 193.22,488.2 203.35,488.6 213.48,489 223.61,489 233.74,497" fill="none" stroke="#2B90E4" stroke-width="1.15" stroke-linejoin="round" stroke-linecap="round"/>
<polyline points="142.57,503 152.7,502.3 162.83,500.2 172.96,498.7 183.09,497.5 193.22,496 203.35,494.9 213.48,493.9 223.61,492.8 233.74,498.7" fill="none" stroke="#22398C" stroke-width="1.15" stroke-linejoin="round" stroke-linecap="round"/>
<text font-size="7.6" fill="#000" text-anchor="middle" transform="translate(171.8 482.86)" stroke="#000" stroke-width="0.12">*</text>
<text font-size="7.6" fill="#000" text-anchor="middle" transform="translate(233 430.86)" stroke="#000" stroke-width="0.12">***</text>
<rect x="142.4" y="403.3" width="48.9" height="59" fill="#FFFFFF" />
<line x1="142.4" y1="459.5" x2="191.3" y2="459.5" stroke="#EBEBEB" stroke-width="0.8" />
<line x1="142.4" y1="442.4" x2="191.3" y2="442.4" stroke="#EBEBEB" stroke-width="0.8" />
<line x1="142.4" y1="425.3" x2="191.3" y2="425.3" stroke="#EBEBEB" stroke-width="0.8" />
<line x1="142.4" y1="408.2" x2="191.3" y2="408.2" stroke="#EBEBEB" stroke-width="0.8" />
<line x1="148.7" y1="403.3" x2="148.7" y2="462.3" stroke="#EBEBEB" stroke-width="0.8" />
<line x1="158.1" y1="403.3" x2="158.1" y2="462.3" stroke="#EBEBEB" stroke-width="0.8" />
<line x1="167.5" y1="403.3" x2="167.5" y2="462.3" stroke="#EBEBEB" stroke-width="0.8" />
<line x1="176.9" y1="403.3" x2="176.9" y2="462.3" stroke="#EBEBEB" stroke-width="0.8" />
<line x1="186.3" y1="403.3" x2="186.3" y2="462.3" stroke="#EBEBEB" stroke-width="0.8" />
<rect x="144" y="435.9" width="4.7" height="23.6" fill="#EDBDAF" />
<rect x="148.7" y="407.5" width="4.7" height="52" fill="#D65F3B" />
<rect x="153.4" y="441.8" width="4.7" height="17.7" fill="#E4E69C" />
<rect x="158.1" y="437" width="4.7" height="22.5" fill="#BCC20E" />
<rect x="162.8" y="442.7" width="4.7" height="16.8" fill="#B5DFB6" />
<rect x="167.5" y="440.2" width="4.7" height="19.3" fill="#36AE48" />
<rect x="172.2" y="441.2" width="4.7" height="18.3" fill="#A3CCEF" />
<rect x="176.9" y="440.2" width="4.7" height="19.3" fill="#0B76D8" />
<rect x="181.6" y="442.3" width="4.7" height="17.2" fill="#A1AED6" />
<rect x="186.3" y="441.8" width="4.7" height="17.7" fill="#0C2D87" />
<text font-size="6.9" fill="#000" text-anchor="middle" transform="translate(151.05 408.74)" stroke="#000" stroke-width="0.12">***</text>
<text font-size="6.9" fill="#000" text-anchor="middle" transform="translate(160.45 437.14)" stroke="#000" stroke-width="0.12">*</text>
<text font-size="6.9" fill="#000" text-anchor="middle" transform="translate(188.65 442.44)" stroke="#000" stroke-width="0.12">*</text>
<rect x="142.4" y="403.3" width="48.9" height="59" fill="none" stroke="#7A7A7A" stroke-width="0.9" />
<rect x="137.5" y="399.5" width="101" height="141" fill="none" stroke="#A3A3A3" stroke-width="1" />
</g>
<g>
<line x1="276.56" y1="399.4" x2="276.56" y2="540.3" stroke="#F1F1F1" stroke-width="0.6" />
<line x1="317.08" y1="399.4" x2="317.08" y2="540.3" stroke="#F1F1F1" stroke-width="0.6" />
<line x1="241.3" y1="516.35" x2="342.1" y2="516.35" stroke="#F1F1F1" stroke-width="0.6" />
<line x1="241.3" y1="477.85" x2="342.1" y2="477.85" stroke="#F1F1F1" stroke-width="0.6" />
<line x1="241.3" y1="439.35" x2="342.1" y2="439.35" stroke="#F1F1F1" stroke-width="0.6" />
<line x1="241.3" y1="400.85" x2="342.1" y2="400.85" stroke="#F1F1F1" stroke-width="0.6" />
<line x1="256.3" y1="399.4" x2="256.3" y2="540.3" stroke="#EBEBEB" stroke-width="1" />
<line x1="296.82" y1="399.4" x2="296.82" y2="540.3" stroke="#EBEBEB" stroke-width="1" />
<line x1="337.34" y1="399.4" x2="337.34" y2="540.3" stroke="#EBEBEB" stroke-width="1" />
<line x1="241.3" y1="535.6" x2="342.1" y2="535.6" stroke="#EBEBEB" stroke-width="1" />
<line x1="241.3" y1="497.1" x2="342.1" y2="497.1" stroke="#EBEBEB" stroke-width="1" />
<line x1="241.3" y1="458.6" x2="342.1" y2="458.6" stroke="#EBEBEB" stroke-width="1" />
<line x1="241.3" y1="420.1" x2="342.1" y2="420.1" stroke="#EBEBEB" stroke-width="1" />
<line x1="326.5" y1="399.9" x2="326.5" y2="540.3" stroke="#EE3B3B" stroke-width="1" stroke-dasharray="1,1"/>
<polyline points="246.17,455 256.3,459.1 266.43,467.5 276.56,463.3 286.69,468.6 296.82,473.9 306.95,477.7 317.08,480.6 327.21,467.5 337.34,446.9" fill="none" stroke="#D9623D" stroke-width="1.15" stroke-linejoin="round" stroke-linecap="round"/>
<polyline points="246.17,481.9 256.3,480.6 266.43,479.1 276.56,480.6 286.69,474.9 296.82,474.3 306.95,471.8 317.08,468.6 327.21,467.5 337.34,476.4" fill="none" stroke="#C0C61C" stroke-width="1.15" stroke-linejoin="round" stroke-linecap="round"/>
<polyline points="246.17,474.9 256.3,474.3 266.43,471.8 276.56,474.3 286.69,471.8 296.82,469.2 306.95,468.6 317.08,469.7 327.21,467.1 337.34,471.8" fill="none" stroke="#3DB34A" stroke-width="1.15" stroke-linejoin="round" stroke-linecap="round"/>
<polyline points="246.17,484.8 256.3,483.4 266.43,478.1 276.56,482.7 286.69,484 296.82,476 306.95,472.2 317.08,475.6 327.21,477.7 337.34,482.7" fill="none" stroke="#2B90E4" stroke-width="1.15" stroke-linejoin="round" stroke-linecap="round"/>
<polyline points="246.17,473.9 256.3,471.8 266.43,467.5 276.56,468.6 286.69,465 296.82,464.4 306.95,464.4 317.08,465 327.21,464.6 337.34,471.3" fill="none" stroke="#22398C" stroke-width="1.15" stroke-linejoin="round" stroke-linecap="round"/>
<rect x="245.8" y="403.3" width="48.7" height="59" fill="#FFFFFF" />
<line x1="245.8" y1="459.7" x2="294.5" y2="459.7" stroke="#EBEBEB" stroke-width="0.8" />
<line x1="245.8" y1="442.6" x2="294.5" y2="442.6" stroke="#EBEBEB" stroke-width="0.8" />
<line x1="245.8" y1="425.5" x2="294.5" y2="425.5" stroke="#EBEBEB" stroke-width="0.8" />
<line x1="245.8" y1="408.4" x2="294.5" y2="408.4" stroke="#EBEBEB" stroke-width="0.8" />
<line x1="252.1" y1="403.3" x2="252.1" y2="462.3" stroke="#EBEBEB" stroke-width="0.8" />
<line x1="261.5" y1="403.3" x2="261.5" y2="462.3" stroke="#EBEBEB" stroke-width="0.8" />
<line x1="270.9" y1="403.3" x2="270.9" y2="462.3" stroke="#EBEBEB" stroke-width="0.8" />
<line x1="280.3" y1="403.3" x2="280.3" y2="462.3" stroke="#EBEBEB" stroke-width="0.8" />
<line x1="289.7" y1="403.3" x2="289.7" y2="462.3" stroke="#EBEBEB" stroke-width="0.8" />
<rect x="247.4" y="432.8" width="4.7" height="26.9" fill="#EDBDAF" />
<rect x="252.1" y="422.9" width="4.7" height="36.8" fill="#D65F3B" />
<rect x="256.8" y="431.7" width="4.7" height="28" fill="#E4E69C" />
<rect x="261.5" y="431.3" width="4.7" height="28.4" fill="#BCC20E" />
<rect x="266.2" y="431.1" width="4.7" height="28.6" fill="#B5DFB6" />
<rect x="270.9" y="430" width="4.7" height="29.7" fill="#36AE48" />
<rect x="275.6" y="434.9" width="4.7" height="24.8" fill="#A3CCEF" />
<rect x="280.3" y="434.2" width="4.7" height="25.5" fill="#0B76D8" />
<rect x="285" y="430" width="4.7" height="29.7" fill="#A1AED6" />
<rect x="289.7" y="429.2" width="4.7" height="30.5" fill="#0C2D87" />
<rect x="245.8" y="403.3" width="48.7" height="59" fill="none" stroke="#7A7A7A" stroke-width="0.9" />
<rect x="241.5" y="399.5" width="101" height="141" fill="none" stroke="#A3A3A3" stroke-width="1" />
</g>
<g>
<line x1="69.66" y1="546.4" x2="69.66" y2="675.4" stroke="#F1F1F1" stroke-width="0.6" />
<line x1="110.18" y1="546.4" x2="110.18" y2="675.4" stroke="#F1F1F1" stroke-width="0.6" />
<line x1="34.4" y1="650.95" x2="135.2" y2="650.95" stroke="#F1F1F1" stroke-width="0.6" />
<line x1="34.4" y1="612.45" x2="135.2" y2="612.45" stroke="#F1F1F1" stroke-width="0.6" />
<line x1="34.4" y1="573.95" x2="135.2" y2="573.95" stroke="#F1F1F1" stroke-width="0.6" />
<line x1="49.4" y1="546.4" x2="49.4" y2="675.4" stroke="#EBEBEB" stroke-width="1" />
<line x1="89.92" y1="546.4" x2="89.92" y2="675.4" stroke="#EBEBEB" stroke-width="1" />
<line x1="130.44" y1="546.4" x2="130.44" y2="675.4" stroke="#EBEBEB" stroke-width="1" />
<line x1="34.4" y1="670.2" x2="135.2" y2="670.2" stroke="#EBEBEB" stroke-width="1" />
<line x1="34.4" y1="631.7" x2="135.2" y2="631.7" stroke="#EBEBEB" stroke-width="1" />
<line x1="34.4" y1="593.2" x2="135.2" y2="593.2" stroke="#EBEBEB" stroke-width="1" />
<line x1="34.4" y1="554.7" x2="135.2" y2="554.7" stroke="#EBEBEB" stroke-width="1" />
<line x1="120.5" y1="546.9" x2="120.5" y2="675.4" stroke="#EE3B3B" stroke-width="1" stroke-dasharray="1,1"/>
<polyline points="39.27,664.5 49.4,662 59.53,661 69.66,658.9 79.79,656.8 89.92,654 100.05,652.5 110.18,651.5 120.31,651.1 130.44,628.7" fill="none" stroke="#D9623D" stroke-width="1.15" stroke-linejoin="round" stroke-linecap="round"/>
<polyline points="39.27,661 49.4,661 59.53,659.9 69.66,659.5 79.79,657.4 89.92,654.6 100.05,653.2 110.18,651.5 120.31,650 130.44,649" fill="none" stroke="#C0C61C" stroke-width="1.15" stroke-linejoin="round" stroke-linecap="round"/>
<polyline points="39.27,660.4 49.4,660 59.53,659.5 69.66,657.8 79.79,655.7 89.92,654 100.05,652.5 110.18,650.4 120.31,650.4 130.44,651.5" fill="none" stroke="#3DB34A" stroke-width="1.15" stroke-linejoin="round" stroke-linecap="round"/>
<polyline points="39.27,659.9 49.4,659.5 59.53,658.9 69.66,657.4 79.79,657.4 89.92,657.8 100.05,656.1 110.18,654.6 120.31,651.5 130.44,653.6" fill="none" stroke="#2B90E4" stroke-width="1.15" stroke-linejoin="round" stroke-linecap="round"/>
<polyline points="39.27,658.9 49.4,658.9 59.53,657.8 69.66,656.1 79.79,654.6 89.92,653.2 100.05,651.9 110.18,651.5 120.31,650 130.44,653.2" fill="none" stroke="#22398C" stroke-width="1.15" stroke-linejoin="round" stroke-linecap="round"/>
<text font-size="7.6" fill="#000" text-anchor="middle" transform="translate(129.2 629.56)" stroke="#000" stroke-width="0.12">***</text>
<rect x="41" y="547.7" width="16" height="60" fill="#FFFFFF" />
<rect x="56" y="606.2" width="51.9" height="16" fill="#FFFFFF" />
<rect x="105.9" y="547.7" width="2" height="60.5" fill="#FFFFFF" />
<rect x="57" y="549.7" width="48.9" height="57.5" fill="#FFFFFF" />
<line x1="57" y1="604.7" x2="105.9" y2="604.7" stroke="#EBEBEB" stroke-width="0.8" />
<line x1="57" y1="587.6" x2="105.9" y2="587.6" stroke="#EBEBEB" stroke-width="0.8" />
<line x1="57" y1="570.5" x2="105.9" y2="570.5" stroke="#EBEBEB" stroke-width="0.8" />
<line x1="57" y1="553.4" x2="105.9" y2="553.4" stroke="#EBEBEB" stroke-width="0.8" />
<line x1="63.3" y1="549.7" x2="63.3" y2="607.2" stroke="#EBEBEB" stroke-width="0.8" />
<line x1="72.7" y1="549.7" x2="72.7" y2="607.2" stroke="#EBEBEB" stroke-width="0.8" />
<line x1="82.1" y1="549.7" x2="82.1" y2="607.2" stroke="#EBEBEB" stroke-width="0.8" />
<line x1="91.5" y1="549.7" x2="91.5" y2="607.2" stroke="#EBEBEB" stroke-width="0.8" />
<line x1="100.9" y1="549.7" x2="100.9" y2="607.2" stroke="#EBEBEB" stroke-width="0.8" />
<rect x="58.6" y="596.3" width="4.7" height="8.4" fill="#EDBDAF" />
<rect x="63.3" y="581.5" width="4.7" height="23.2" fill="#D65F3B" />
<rect x="68" y="596.3" width="4.7" height="8.4" fill="#E4E69C" />
<rect x="72.7" y="594" width="4.7" height="10.7" fill="#BCC20E" />
<rect x="77.4" y="596.7" width="4.7" height="8" fill="#B5DFB6" />
<rect x="82.1" y="595.2" width="4.7" height="9.5" fill="#36AE48" />
<rect x="86.8" y="597.7" width="4.7" height="7" fill="#A3CCEF" />
<rect x="91.5" y="596.3" width="4.7" height="8.4" fill="#0B76D8" />
<rect x="96.2" y="596.3" width="4.7" height="8.4" fill="#A1AED6" />
<rect x="100.9" y="595.6" width="4.7" height="9.1" fill="#0C2D87" />
<text font-size="6.9" fill="#000" text-anchor="middle" transform="translate(65.65 581.74)" stroke="#000" stroke-width="0.12">***</text>
<text font-size="6.9" fill="#000" text-anchor="middle" transform="translate(75.05 594.14)" stroke="#000" stroke-width="0.12">*</text>
<text font-size="6.9" fill="#000" text-anchor="middle" transform="translate(103.25 596.24)" stroke="#000" stroke-width="0.12">*</text>
<rect x="57" y="549.7" width="48.9" height="57.5" fill="none" stroke="#7A7A7A" stroke-width="0.9" />
<line x1="55.4" y1="604.7" x2="57" y2="604.7" stroke="#555" stroke-width="0.6" />
<text font-size="6.1" fill="#222222" text-anchor="end" transform="translate(55 607.1) scale(1 1.12)" stroke="#222222" stroke-width="0.1">0</text>
<line x1="55.4" y1="587.6" x2="57" y2="587.6" stroke="#555" stroke-width="0.6" />
<text font-size="6.1" fill="#222222" text-anchor="end" transform="translate(55 590) scale(1 1.12)" stroke="#222222" stroke-width="0.1">10</text>
<line x1="55.4" y1="570.5" x2="57" y2="570.5" stroke="#555" stroke-width="0.6" />
<text font-size="6.1" fill="#222222" text-anchor="end" transform="translate(55 572.9) scale(1 1.12)" stroke="#222222" stroke-width="0.1">20</text>
<line x1="55.4" y1="553.4" x2="57" y2="553.4" stroke="#555" stroke-width="0.6" />
<text font-size="6.1" fill="#222222" text-anchor="end" transform="translate(55 555.8) scale(1 1.12)" stroke="#222222" stroke-width="0.1">30</text>
<line x1="63.3" y1="607.2" x2="63.3" y2="608.7" stroke="#555" stroke-width="0.6" />
<text font-size="6.1" fill="#222222" text-anchor="middle" transform="translate(63.3 614.1) scale(1 1.12)" stroke="#222222" stroke-width="0.1">15</text>
<line x1="72.7" y1="607.2" x2="72.7" y2="608.7" stroke="#555" stroke-width="0.6" />
<text font-size="6.1" fill="#222222" text-anchor="middle" transform="translate(72.7 614.1) scale(1 1.12)" stroke="#222222" stroke-width="0.1">30</text>
<line x1="82.1" y1="607.2" x2="82.1" y2="608.7" stroke="#555" stroke-width="0.6" />
<text font-size="6.1" fill="#222222" text-anchor="middle" transform="translate(82.1 614.1) scale(1 1.12)" stroke="#222222" stroke-width="0.1">45</text>
<line x1="91.5" y1="607.2" x2="91.5" y2="608.7" stroke="#555" stroke-width="0.6" />
<text font-size="6.1" fill="#222222" text-anchor="middle" transform="translate(91.5 614.1) scale(1 1.12)" stroke="#222222" stroke-width="0.1">60</text>
<line x1="100.9" y1="607.2" x2="100.9" y2="608.7" stroke="#555" stroke-width="0.6" />
<text font-size="6.1" fill="#222222" text-anchor="middle" transform="translate(100.9 614.1) scale(1 1.12)" stroke="#222222" stroke-width="0.1">90</text>
<text font-size="6.5" fill="#222" text-anchor="middle" transform="translate(81.45 621.9) scale(1 1.12)" stroke="#222" stroke-width="0.1">Shelter time (s)</text>
<text font-size="6.5" fill="#222" text-anchor="middle" transform="translate(46.4 579.95) rotate(-90) scale(1 1.12)" stroke="#222" stroke-width="0.1">% New cases</text>
<rect x="34.5" y="546.5" width="101" height="129" fill="none" stroke="#A3A3A3" stroke-width="1" />
</g>
<line x1="30.9" y1="670.2" x2="34.4" y2="670.2" stroke="#4D4D4D" stroke-width="0.7" />
<text font-size="7.7" fill="#222222" text-anchor="end" transform="translate(29.8 672.95) scale(1 1.12)" stroke="#222222" stroke-width="0.1">0</text>
<line x1="30.9" y1="631.7" x2="34.4" y2="631.7" stroke="#4D4D4D" stroke-width="0.7" />
<text font-size="7.7" fill="#222222" text-anchor="end" transform="translate(29.8 634.45) scale(1 1.12)" stroke="#222222" stroke-width="0.1">10</text>
<line x1="30.9" y1="593.2" x2="34.4" y2="593.2" stroke="#4D4D4D" stroke-width="0.7" />
<text font-size="7.7" fill="#222222" text-anchor="end" transform="translate(29.8 595.95) scale(1 1.12)" stroke="#222222" stroke-width="0.1">20</text>
<line x1="49.4" y1="675.4" x2="49.4" y2="678.9" stroke="#4D4D4D" stroke-width="0.7" />
<text font-size="7.7" fill="#222222" text-anchor="middle" transform="translate(49.4 687.6) scale(1 1.12)" stroke="#222222" stroke-width="0.1">2016</text>
<line x1="89.92" y1="675.4" x2="89.92" y2="678.9" stroke="#4D4D4D" stroke-width="0.7" />
<text font-size="7.7" fill="#222222" text-anchor="middle" transform="translate(89.92 687.6) scale(1 1.12)" stroke="#222222" stroke-width="0.1">2020</text>
<line x1="130.44" y1="675.4" x2="130.44" y2="678.9" stroke="#4D4D4D" stroke-width="0.7" />
<text font-size="7.7" fill="#222222" text-anchor="middle" transform="translate(130.44 687.6) scale(1 1.12)" stroke="#222222" stroke-width="0.1">2024</text>
<g>
<line x1="172.96" y1="546.4" x2="172.96" y2="675.4" stroke="#F1F1F1" stroke-width="0.6" />
<line x1="213.48" y1="546.4" x2="213.48" y2="675.4" stroke="#F1F1F1" stroke-width="0.6" />
<line x1="137.7" y1="650.95" x2="238.5" y2="650.95" stroke="#F1F1F1" stroke-width="0.6" />
<line x1="137.7" y1="612.45" x2="238.5" y2="612.45" stroke="#F1F1F1" stroke-width="0.6" />
<line x1="137.7" y1="573.95" x2="238.5" y2="573.95" stroke="#F1F1F1" stroke-width="0.6" />
<line x1="152.7" y1="546.4" x2="152.7" y2="675.4" stroke="#EBEBEB" stroke-width="1" />
<line x1="193.22" y1="546.4" x2="193.22" y2="675.4" stroke="#EBEBEB" stroke-width="1" />
<line x1="233.74" y1="546.4" x2="233.74" y2="675.4" stroke="#EBEBEB" stroke-width="1" />
<line x1="137.7" y1="670.2" x2="238.5" y2="670.2" stroke="#EBEBEB" stroke-width="1" />
<line x1="137.7" y1="631.7" x2="238.5" y2="631.7" stroke="#EBEBEB" stroke-width="1" />
<line x1="137.7" y1="593.2" x2="238.5" y2="593.2" stroke="#EBEBEB" stroke-width="1" />
<line x1="137.7" y1="554.7" x2="238.5" y2="554.7" stroke="#EBEBEB" stroke-width="1" />
<line x1="223.5" y1="546.9" x2="223.5" y2="675.4" stroke="#EE3B3B" stroke-width="1" stroke-dasharray="1,1"/>
<polyline points="142.57,651.5 152.7,650.4 162.83,656.3 172.96,656.8 183.09,651.1 193.22,651.9 203.35,654.6 213.48,653.2 223.61,642 233.74,595.6" fill="none" stroke="#D9623D" stroke-width="1.15" stroke-linejoin="round" stroke-linecap="round"/>
<polyline points="142.57,652.5 152.7,650.4 162.83,649.4 172.96,647.7 183.09,644.1 193.22,642 203.35,643.1 213.48,640.5 223.61,636.7 233.74,644.7" fill="none" stroke="#C0C61C" stroke-width="1.15" stroke-linejoin="round" stroke-linecap="round"/>
<polyline points="142.57,654 152.7,651.5 162.83,650.4 172.96,648.3 183.09,645.2 193.22,643.1 203.35,641.4 213.48,638.8 223.61,634.6 233.74,635.7" fill="none" stroke="#3DB34A" stroke-width="1.15" stroke-linejoin="round" stroke-linecap="round"/>
<polyline points="142.57,650.4 152.7,648.9 162.83,647.3 172.96,644.7 183.09,643.1 193.22,643.5 203.35,642 213.48,639.9 223.61,638.8 233.74,642" fill="none" stroke="#2B90E4" stroke-width="1.15" stroke-linejoin="round" stroke-linecap="round"/>
<polyline points="142.57,649.8 152.7,647.7 162.83,646.8 172.96,645.6 183.09,644.1 193.22,643.1 203.35,642 213.48,640.5 223.61,638.8 233.74,642" fill="none" stroke="#22398C" stroke-width="1.15" stroke-linejoin="round" stroke-linecap="round"/>
<text font-size="7.6" fill="#000" text-anchor="middle" transform="translate(232.8 595.86)" stroke="#000" stroke-width="0.12">***</text>
<rect x="142.4" y="549.7" width="48.9" height="57.5" fill="#FFFFFF" />
<line x1="142.4" y1="604.5" x2="191.3" y2="604.5" stroke="#EBEBEB" stroke-width="0.8" />
<line x1="142.4" y1="587.4" x2="191.3" y2="587.4" stroke="#EBEBEB" stroke-width="0.8" />
<line x1="142.4" y1="570.3" x2="191.3" y2="570.3" stroke="#EBEBEB" stroke-width="0.8" />
<line x1="142.4" y1="553.2" x2="191.3" y2="553.2" stroke="#EBEBEB" stroke-width="0.8" />
<line x1="148.7" y1="549.7" x2="148.7" y2="607.2" stroke="#EBEBEB" stroke-width="0.8" />
<line x1="158.1" y1="549.7" x2="158.1" y2="607.2" stroke="#EBEBEB" stroke-width="0.8" />
<line x1="167.5" y1="549.7" x2="167.5" y2="607.2" stroke="#EBEBEB" stroke-width="0.8" />
<line x1="176.9" y1="549.7" x2="176.9" y2="607.2" stroke="#EBEBEB" stroke-width="0.8" />
<line x1="186.3" y1="549.7" x2="186.3" y2="607.2" stroke="#EBEBEB" stroke-width="0.8" />
<rect x="144" y="592" width="4.7" height="12.5" fill="#EDBDAF" />
<rect x="148.7" y="569.7" width="4.7" height="34.8" fill="#D65F3B" />
<rect x="153.4" y="590" width="4.7" height="14.5" fill="#E4E69C" />
<rect x="158.1" y="590.8" width="4.7" height="13.7" fill="#BCC20E" />
<rect x="162.8" y="590" width="4.7" height="14.5" fill="#B5DFB6" />
<rect x="167.5" y="587.8" width="4.7" height="16.7" fill="#36AE48" />
<rect x="172.2" y="590.8" width="4.7" height="13.7" fill="#A3CCEF" />
<rect x="176.9" y="590.8" width="4.7" height="13.7" fill="#0B76D8" />
<rect x="181.6" y="590.8" width="4.7" height="13.7" fill="#A1AED6" />
<rect x="186.3" y="590.8" width="4.7" height="13.7" fill="#0C2D87" />
<text font-size="6.9" fill="#000" text-anchor="middle" transform="translate(151.05 570.54)" stroke="#000" stroke-width="0.12">***</text>
<rect x="142.4" y="549.7" width="48.9" height="57.5" fill="none" stroke="#7A7A7A" stroke-width="0.9" />
<rect x="137.5" y="546.5" width="101" height="129" fill="none" stroke="#A3A3A3" stroke-width="1" />
</g>
<line x1="152.7" y1="675.4" x2="152.7" y2="678.9" stroke="#4D4D4D" stroke-width="0.7" />
<text font-size="7.7" fill="#222222" text-anchor="middle" transform="translate(152.7 687.6) scale(1 1.12)" stroke="#222222" stroke-width="0.1">2016</text>
<line x1="193.22" y1="675.4" x2="193.22" y2="678.9" stroke="#4D4D4D" stroke-width="0.7" />
<text font-size="7.7" fill="#222222" text-anchor="middle" transform="translate(193.22 687.6) scale(1 1.12)" stroke="#222222" stroke-width="0.1">2020</text>
<line x1="233.74" y1="675.4" x2="233.74" y2="678.9" stroke="#4D4D4D" stroke-width="0.7" />
<text font-size="7.7" fill="#222222" text-anchor="middle" transform="translate(233.74 687.6) scale(1 1.12)" stroke="#222222" stroke-width="0.1">2024</text>
<g>
<line x1="276.56" y1="546.4" x2="276.56" y2="675.4" stroke="#F1F1F1" stroke-width="0.6" />
<line x1="317.08" y1="546.4" x2="317.08" y2="675.4" stroke="#F1F1F1" stroke-width="0.6" />
<line x1="241.3" y1="650.95" x2="342.1" y2="650.95" stroke="#F1F1F1" stroke-width="0.6" />
<line x1="241.3" y1="612.45" x2="342.1" y2="612.45" stroke="#F1F1F1" stroke-width="0.6" />
<line x1="241.3" y1="573.95" x2="342.1" y2="573.95" stroke="#F1F1F1" stroke-width="0.6" />
<line x1="256.3" y1="546.4" x2="256.3" y2="675.4" stroke="#EBEBEB" stroke-width="1" />
<line x1="296.82" y1="546.4" x2="296.82" y2="675.4" stroke="#EBEBEB" stroke-width="1" />
<line x1="337.34" y1="546.4" x2="337.34" y2="675.4" stroke="#EBEBEB" stroke-width="1" />
<line x1="241.3" y1="670.2" x2="342.1" y2="670.2" stroke="#EBEBEB" stroke-width="1" />
<line x1="241.3" y1="631.7" x2="342.1" y2="631.7" stroke="#EBEBEB" stroke-width="1" />
<line x1="241.3" y1="593.2" x2="342.1" y2="593.2" stroke="#EBEBEB" stroke-width="1" />
<line x1="241.3" y1="554.7" x2="342.1" y2="554.7" stroke="#EBEBEB" stroke-width="1" />
<line x1="326.5" y1="546.9" x2="326.5" y2="675.4" stroke="#EE3B3B" stroke-width="1" stroke-dasharray="1,1"/>
<polyline points="246.17,656.7 256.3,646.2 266.43,643.1 276.56,651.9 286.69,659.9 296.82,645.2 306.95,633.6 317.08,623.7 327.21,642 337.34,623.7" fill="none" stroke="#D9623D" stroke-width="1.15" stroke-linejoin="round" stroke-linecap="round"/>
<polyline points="246.17,644.1 256.3,641 266.43,639.9 276.56,640.5 286.69,634.2 296.82,632.1 306.95,630.4 317.08,631.5 327.21,630 337.34,635.7" fill="none" stroke="#C0C61C" stroke-width="1.15" stroke-linejoin="round" stroke-linecap="round"/>
<polyline points="246.17,638.4 256.3,634.6 266.43,635.7 276.56,633.6 286.69,634.2 296.82,635.7 306.95,630.4 317.08,627.2 327.21,626.2 337.34,633.6" fill="none" stroke="#3DB34A" stroke-width="1.15" stroke-linejoin="round" stroke-linecap="round"/>
<polyline points="246.17,638.4 256.3,642 266.43,642 276.56,642 286.69,635 296.82,633.6 306.95,634.2 317.08,634.6 327.21,633.6 337.34,634.6" fill="none" stroke="#2B90E4" stroke-width="1.15" stroke-linejoin="round" stroke-linecap="round"/>
<polyline points="246.17,631.5 256.3,630 266.43,628.9 276.56,628.3 286.69,627.9 296.82,627.2 306.95,626.2 317.08,625.1 327.21,624.1 337.34,630" fill="none" stroke="#22398C" stroke-width="1.15" stroke-linejoin="round" stroke-linecap="round"/>
<rect x="245.8" y="549.7" width="48.7" height="57.5" fill="#FFFFFF" />
<line x1="245.8" y1="604.7" x2="294.5" y2="604.7" stroke="#EBEBEB" stroke-width="0.8" />
<line x1="245.8" y1="587.6" x2="294.5" y2="587.6" stroke="#EBEBEB" stroke-width="0.8" />
<line x1="245.8" y1="570.5" x2="294.5" y2="570.5" stroke="#EBEBEB" stroke-width="0.8" />
<line x1="245.8" y1="553.4" x2="294.5" y2="553.4" stroke="#EBEBEB" stroke-width="0.8" />
<line x1="252.1" y1="549.7" x2="252.1" y2="607.2" stroke="#EBEBEB" stroke-width="0.8" />
<line x1="261.5" y1="549.7" x2="261.5" y2="607.2" stroke="#EBEBEB" stroke-width="0.8" />
<line x1="270.9" y1="549.7" x2="270.9" y2="607.2" stroke="#EBEBEB" stroke-width="0.8" />
<line x1="280.3" y1="549.7" x2="280.3" y2="607.2" stroke="#EBEBEB" stroke-width="0.8" />
<line x1="289.7" y1="549.7" x2="289.7" y2="607.2" stroke="#EBEBEB" stroke-width="0.8" />
<rect x="247.4" y="592" width="4.7" height="12.7" fill="#EDBDAF" />
<rect x="252.1" y="583" width="4.7" height="21.7" fill="#D65F3B" />
<rect x="256.8" y="587.8" width="4.7" height="16.9" fill="#E4E69C" />
<rect x="261.5" y="587.6" width="4.7" height="17.1" fill="#BCC20E" />
<rect x="266.2" y="586.1" width="4.7" height="18.6" fill="#B5DFB6" />
<rect x="270.9" y="586.6" width="4.7" height="18.1" fill="#36AE48" />
<rect x="275.6" y="588.9" width="4.7" height="15.8" fill="#A3CCEF" />
<rect x="280.3" y="588.7" width="4.7" height="16" fill="#0B76D8" />
<rect x="285" y="585.5" width="4.7" height="19.2" fill="#A1AED6" />
<rect x="289.7" y="585.3" width="4.7" height="19.4" fill="#0C2D87" />
<rect x="245.8" y="549.7" width="48.7" height="57.5" fill="none" stroke="#7A7A7A" stroke-width="0.9" />
<rect x="241.5" y="546.5" width="101" height="129" fill="none" stroke="#A3A3A3" stroke-width="1" />
</g>
<line x1="256.3" y1="675.4" x2="256.3" y2="678.9" stroke="#4D4D4D" stroke-width="0.7" />
<text font-size="7.7" fill="#222222" text-anchor="middle" transform="translate(256.3 687.6) scale(1 1.12)" stroke="#222222" stroke-width="0.1">2016</text>
<line x1="296.82" y1="675.4" x2="296.82" y2="678.9" stroke="#4D4D4D" stroke-width="0.7" />
<text font-size="7.7" fill="#222222" text-anchor="middle" transform="translate(296.82 687.6) scale(1 1.12)" stroke="#222222" stroke-width="0.1">2020</text>
<line x1="337.34" y1="675.4" x2="337.34" y2="678.9" stroke="#4D4D4D" stroke-width="0.7" />
<text font-size="7.7" fill="#222222" text-anchor="middle" transform="translate(337.34 687.6) scale(1 1.12)" stroke="#222222" stroke-width="0.1">2024</text>
<g>
<line x1="400.76" y1="399.4" x2="400.76" y2="540.3" stroke="#F1F1F1" stroke-width="0.6" />
<line x1="441.28" y1="399.4" x2="441.28" y2="540.3" stroke="#F1F1F1" stroke-width="0.6" />
<line x1="365.5" y1="516.07" x2="466.2" y2="516.07" stroke="#F1F1F1" stroke-width="0.6" />
<line x1="365.5" y1="477.62" x2="466.2" y2="477.62" stroke="#F1F1F1" stroke-width="0.6" />
<line x1="365.5" y1="439.17" x2="466.2" y2="439.17" stroke="#F1F1F1" stroke-width="0.6" />
<line x1="365.5" y1="400.72" x2="466.2" y2="400.72" stroke="#F1F1F1" stroke-width="0.6" />
<line x1="380.5" y1="399.4" x2="380.5" y2="540.3" stroke="#EBEBEB" stroke-width="1" />
<line x1="421.02" y1="399.4" x2="421.02" y2="540.3" stroke="#EBEBEB" stroke-width="1" />
<line x1="461.54" y1="399.4" x2="461.54" y2="540.3" stroke="#EBEBEB" stroke-width="1" />
<line x1="365.5" y1="535.3" x2="466.2" y2="535.3" stroke="#EBEBEB" stroke-width="1" />
<line x1="365.5" y1="496.85" x2="466.2" y2="496.85" stroke="#EBEBEB" stroke-width="1" />
<line x1="365.5" y1="458.4" x2="466.2" y2="458.4" stroke="#EBEBEB" stroke-width="1" />
<line x1="365.5" y1="419.95" x2="466.2" y2="419.95" stroke="#EBEBEB" stroke-width="1" />
<line x1="451.5" y1="399.9" x2="451.5" y2="540.3" stroke="#EE3B3B" stroke-width="1" stroke-dasharray="1,1"/>
<polyline points="370.37,527 380.5,528.7 390.63,527.6 400.76,524.4 410.89,527 421.02,526.1 431.15,526.1 441.28,525.5 451.41,515 461.54,507.6" fill="none" stroke="#D9623D" stroke-width="1.15" stroke-linejoin="round" stroke-linecap="round"/>
<polyline points="370.37,527 380.5,525.5 390.63,527 400.76,527.6 410.89,526.6 421.02,525.1 431.15,525.7 441.28,525.1 451.41,521.5 461.54,524" fill="none" stroke="#C0C61C" stroke-width="1.15" stroke-linejoin="round" stroke-linecap="round"/>
<polyline points="370.37,529.7 380.5,529.7 390.63,528.2 400.76,528.2 410.89,527 421.02,526.6 431.15,526.1 441.28,525.5 451.41,524 461.54,525.5" fill="none" stroke="#3DB34A" stroke-width="1.15" stroke-linejoin="round" stroke-linecap="round"/>
<polyline points="370.37,529.1 380.5,528.7 390.63,528.2 400.76,528.2 410.89,527 421.02,525.5 431.15,524.9 441.28,525.1 451.41,524.4 461.54,525.5" fill="none" stroke="#2B90E4" stroke-width="1.15" stroke-linejoin="round" stroke-linecap="round"/>
<polyline points="370.37,530.4 380.5,529.7 390.63,529.1 400.76,528.7 410.89,528.7 421.02,527.6 431.15,527 441.28,526.6 451.41,525.5 461.54,529.1" fill="none" stroke="#22398C" stroke-width="1.15" stroke-linejoin="round" stroke-linecap="round"/>
<rect x="365.6" y="401.4" width="16" height="61.6" fill="#FFFFFF" />
<rect x="380.6" y="461.5" width="52.1" height="16" fill="#FFFFFF" />
<rect x="430.7" y="401.4" width="2" height="62.1" fill="#FFFFFF" />
<rect x="381.6" y="403.4" width="49.1" height="59.1" fill="#FFFFFF" />
<line x1="381.6" y1="459.8" x2="430.7" y2="459.8" stroke="#EBEBEB" stroke-width="0.8" />
<line x1="381.6" y1="445.91" x2="430.7" y2="445.91" stroke="#EBEBEB" stroke-width="0.8" />
<line x1="381.6" y1="432.02" x2="430.7" y2="432.02" stroke="#EBEBEB" stroke-width="0.8" />
<line x1="381.6" y1="418.13" x2="430.7" y2="418.13" stroke="#EBEBEB" stroke-width="0.8" />
<line x1="387.7" y1="403.4" x2="387.7" y2="462.5" stroke="#EBEBEB" stroke-width="0.8" />
<line x1="397.03" y1="403.4" x2="397.03" y2="462.5" stroke="#EBEBEB" stroke-width="0.8" />
<line x1="406.36" y1="403.4" x2="406.36" y2="462.5" stroke="#EBEBEB" stroke-width="0.8" />
<line x1="415.69" y1="403.4" x2="415.69" y2="462.5" stroke="#EBEBEB" stroke-width="0.8" />
<line x1="425.02" y1="403.4" x2="425.02" y2="462.5" stroke="#EBEBEB" stroke-width="0.8" />
<rect x="383.03" y="454" width="4.67" height="5.8" fill="#EDBDAF" />
<rect x="387.7" y="446" width="4.67" height="13.8" fill="#D65F3B" />
<rect x="392.36" y="452.6" width="4.67" height="7.2" fill="#E4E69C" />
<rect x="397.03" y="451.9" width="4.67" height="7.9" fill="#BCC20E" />
<rect x="401.69" y="453.4" width="4.67" height="6.4" fill="#B5DFB6" />
<rect x="406.36" y="453.4" width="4.67" height="6.4" fill="#36AE48" />
<rect x="411.02" y="452.6" width="4.67" height="7.2" fill="#A3CCEF" />
<rect x="415.69" y="452.6" width="4.67" height="7.2" fill="#0B76D8" />
<rect x="420.35" y="455.1" width="4.67" height="4.7" fill="#A1AED6" />
<rect x="425.02" y="454.3" width="4.67" height="5.5" fill="#0C2D87" />
<text font-size="6.9" fill="#000" text-anchor="middle" transform="translate(390.04 446.24)" stroke="#000" stroke-width="0.12">*</text>
<rect x="381.6" y="403.4" width="49.1" height="59.1" fill="none" stroke="#7A7A7A" stroke-width="0.9" />
<line x1="380" y1="459.8" x2="381.6" y2="459.8" stroke="#555" stroke-width="0.6" />
<text font-size="6.1" fill="#222222" text-anchor="end" transform="translate(380 462.2) scale(1 1.12)" stroke="#222222" stroke-width="0.1">0</text>
<line x1="380" y1="445.91" x2="381.6" y2="445.91" stroke="#555" stroke-width="0.6" />
<text font-size="6.1" fill="#222222" text-anchor="end" transform="translate(380 448.31) scale(1 1.12)" stroke="#222222" stroke-width="0.1">3</text>
<line x1="380" y1="432.02" x2="381.6" y2="432.02" stroke="#555" stroke-width="0.6" />
<text font-size="6.1" fill="#222222" text-anchor="end" transform="translate(380 434.42) scale(1 1.12)" stroke="#222222" stroke-width="0.1">6</text>
<line x1="380" y1="418.13" x2="381.6" y2="418.13" stroke="#555" stroke-width="0.6" />
<text font-size="6.1" fill="#222222" text-anchor="end" transform="translate(380 420.53) scale(1 1.12)" stroke="#222222" stroke-width="0.1">9</text>
<line x1="387.7" y1="462.5" x2="387.7" y2="464" stroke="#555" stroke-width="0.6" />
<text font-size="6.1" fill="#222222" text-anchor="middle" transform="translate(387.7 469.4) scale(1 1.12)" stroke="#222222" stroke-width="0.1">15</text>
<line x1="397.03" y1="462.5" x2="397.03" y2="464" stroke="#555" stroke-width="0.6" />
<text font-size="6.1" fill="#222222" text-anchor="middle" transform="translate(397.03 469.4) scale(1 1.12)" stroke="#222222" stroke-width="0.1">30</text>
<line x1="406.36" y1="462.5" x2="406.36" y2="464" stroke="#555" stroke-width="0.6" />
<text font-size="6.1" fill="#222222" text-anchor="middle" transform="translate(406.36 469.4) scale(1 1.12)" stroke="#222222" stroke-width="0.1">45</text>
<line x1="415.69" y1="462.5" x2="415.69" y2="464" stroke="#555" stroke-width="0.6" />
<text font-size="6.1" fill="#222222" text-anchor="middle" transform="translate(415.69 469.4) scale(1 1.12)" stroke="#222222" stroke-width="0.1">60</text>
<line x1="425.02" y1="462.5" x2="425.02" y2="464" stroke="#555" stroke-width="0.6" />
<text font-size="6.1" fill="#222222" text-anchor="middle" transform="translate(425.02 469.4) scale(1 1.12)" stroke="#222222" stroke-width="0.1">90</text>
<text font-size="6.5" fill="#222" text-anchor="middle" transform="translate(406.15 477.2) scale(1 1.12)" stroke="#222" stroke-width="0.1">Shelter time (s)</text>
<text font-size="6.5" fill="#222" text-anchor="middle" transform="translate(374.4 434.45) rotate(-90) scale(1 1.12)" stroke="#222" stroke-width="0.1">% New cases</text>
<rect x="365.5" y="399.5" width="101" height="141" fill="none" stroke="#A3A3A3" stroke-width="1" />
</g>
<line x1="362" y1="535.3" x2="365.5" y2="535.3" stroke="#4D4D4D" stroke-width="0.7" />
<text font-size="7.7" fill="#222222" text-anchor="end" transform="translate(360.9 538.05) scale(1 1.12)" stroke="#222222" stroke-width="0.1">0</text>
<line x1="362" y1="496.85" x2="365.5" y2="496.85" stroke="#4D4D4D" stroke-width="0.7" />
<text font-size="7.7" fill="#222222" text-anchor="end" transform="translate(360.9 499.6) scale(1 1.12)" stroke="#222222" stroke-width="0.1">5</text>
<line x1="362" y1="458.4" x2="365.5" y2="458.4" stroke="#4D4D4D" stroke-width="0.7" />
<text font-size="7.7" fill="#222222" text-anchor="end" transform="translate(360.9 461.15) scale(1 1.12)" stroke="#222222" stroke-width="0.1">10</text>
<g>
<line x1="503.76" y1="399.4" x2="503.76" y2="540.3" stroke="#F1F1F1" stroke-width="0.6" />
<line x1="544.28" y1="399.4" x2="544.28" y2="540.3" stroke="#F1F1F1" stroke-width="0.6" />
<line x1="468.5" y1="516.07" x2="569.2" y2="516.07" stroke="#F1F1F1" stroke-width="0.6" />
<line x1="468.5" y1="477.62" x2="569.2" y2="477.62" stroke="#F1F1F1" stroke-width="0.6" />
<line x1="468.5" y1="439.17" x2="569.2" y2="439.17" stroke="#F1F1F1" stroke-width="0.6" />
<line x1="468.5" y1="400.72" x2="569.2" y2="400.72" stroke="#F1F1F1" stroke-width="0.6" />
<line x1="483.5" y1="399.4" x2="483.5" y2="540.3" stroke="#EBEBEB" stroke-width="1" />
<line x1="524.02" y1="399.4" x2="524.02" y2="540.3" stroke="#EBEBEB" stroke-width="1" />
<line x1="564.54" y1="399.4" x2="564.54" y2="540.3" stroke="#EBEBEB" stroke-width="1" />
<line x1="468.5" y1="535.3" x2="569.2" y2="535.3" stroke="#EBEBEB" stroke-width="1" />
<line x1="468.5" y1="496.85" x2="569.2" y2="496.85" stroke="#EBEBEB" stroke-width="1" />
<line x1="468.5" y1="458.4" x2="569.2" y2="458.4" stroke="#EBEBEB" stroke-width="1" />
<line x1="468.5" y1="419.95" x2="569.2" y2="419.95" stroke="#EBEBEB" stroke-width="1" />
<line x1="554.5" y1="399.9" x2="554.5" y2="540.3" stroke="#EE3B3B" stroke-width="1" stroke-dasharray="1,1"/>
<polyline points="473.37,507.2 483.5,509.7 493.63,497.1 503.76,504.4 513.89,501.9 524.02,505.5 534.15,507.6 544.28,516 554.41,501.3 564.54,488.6" fill="none" stroke="#D9623D" stroke-width="1.15" stroke-linejoin="round" stroke-linecap="round"/>
<polyline points="473.37,506.5 483.5,508.6 493.63,502.3 503.76,498.7 513.89,495.4 524.02,495.4 534.15,496 544.28,500.2 554.41,492.8 564.54,502.3" fill="none" stroke="#C0C61C" stroke-width="1.15" stroke-linejoin="round" stroke-linecap="round"/>
<polyline points="473.37,504.4 483.5,503.8 493.63,504.4 503.76,506.1 513.89,504.4 524.02,505.1 534.15,502.3 544.28,499.2 554.41,498.1 564.54,508.6" fill="none" stroke="#3DB34A" stroke-width="1.15" stroke-linejoin="round" stroke-linecap="round"/>
<polyline points="473.37,512.2 483.5,513.5 493.63,514.5 503.76,515 513.89,511.8 524.02,510.1 534.15,506.5 544.28,509.3 554.41,505.9 564.54,513.9" fill="none" stroke="#2B90E4" stroke-width="1.15" stroke-linejoin="round" stroke-linecap="round"/>
<polyline points="473.37,510.7 483.5,511.2 493.63,509.3 503.76,509.3 513.89,508 524.02,506.5 534.15,506.5 544.28,507.6 554.41,505.1 564.54,512.9" fill="none" stroke="#22398C" stroke-width="1.15" stroke-linejoin="round" stroke-linecap="round"/>
<text font-size="7.6" fill="#000" text-anchor="middle" transform="translate(501.9 499.16)" stroke="#000" stroke-width="0.12">*</text>
<text font-size="7.6" fill="#000" text-anchor="middle" transform="translate(511.4 495.56)" stroke="#000" stroke-width="0.12">*</text>
<text font-size="7.6" fill="#000" text-anchor="middle" transform="translate(520.8 494.46)" stroke="#000" stroke-width="0.12">*</text>
<text font-size="7.6" fill="#000" text-anchor="middle" transform="translate(530.3 494.46)" stroke="#000" stroke-width="0.12">*</text>
<text font-size="7.6" fill="#000" text-anchor="middle" transform="translate(537.7 496.16)" stroke="#000" stroke-width="0.12">*</text>
<rect x="473.4" y="403.3" width="48.9" height="59" fill="#FFFFFF" />
<line x1="473.4" y1="459.7" x2="522.3" y2="459.7" stroke="#EBEBEB" stroke-width="0.8" />
<line x1="473.4" y1="445.81" x2="522.3" y2="445.81" stroke="#EBEBEB" stroke-width="0.8" />
<line x1="473.4" y1="431.92" x2="522.3" y2="431.92" stroke="#EBEBEB" stroke-width="0.8" />
<line x1="473.4" y1="418.03" x2="522.3" y2="418.03" stroke="#EBEBEB" stroke-width="0.8" />
<line x1="479.5" y1="403.3" x2="479.5" y2="462.3" stroke="#EBEBEB" stroke-width="0.8" />
<line x1="488.83" y1="403.3" x2="488.83" y2="462.3" stroke="#EBEBEB" stroke-width="0.8" />
<line x1="498.16" y1="403.3" x2="498.16" y2="462.3" stroke="#EBEBEB" stroke-width="0.8" />
<line x1="507.49" y1="403.3" x2="507.49" y2="462.3" stroke="#EBEBEB" stroke-width="0.8" />
<line x1="516.82" y1="403.3" x2="516.82" y2="462.3" stroke="#EBEBEB" stroke-width="0.8" />
<rect x="474.83" y="450.7" width="4.67" height="9" fill="#EDBDAF" />
<rect x="479.5" y="423.7" width="4.67" height="36" fill="#D65F3B" />
<rect x="484.16" y="443.9" width="4.67" height="15.8" fill="#E4E69C" />
<rect x="488.83" y="441.8" width="4.67" height="17.9" fill="#BCC20E" />
<rect x="493.49" y="446" width="4.67" height="13.7" fill="#B5DFB6" />
<rect x="498.16" y="445" width="4.67" height="14.7" fill="#36AE48" />
<rect x="502.82" y="450.1" width="4.67" height="9.6" fill="#A3CCEF" />
<rect x="507.49" y="448.6" width="4.67" height="11.1" fill="#0B76D8" />
<rect x="512.15" y="447.5" width="4.67" height="12.2" fill="#A1AED6" />
<rect x="516.82" y="446.9" width="4.67" height="12.8" fill="#0C2D87" />
<text font-size="6.9" fill="#000" text-anchor="middle" transform="translate(481.83 424.54)" stroke="#000" stroke-width="0.12">*</text>
<rect x="473.4" y="403.3" width="48.9" height="59" fill="none" stroke="#7A7A7A" stroke-width="0.9" />
<rect x="468.5" y="399.5" width="101" height="141" fill="none" stroke="#A3A3A3" stroke-width="1" />
</g>
<g>
<line x1="607.26" y1="399.4" x2="607.26" y2="540.3" stroke="#F1F1F1" stroke-width="0.6" />
<line x1="647.78" y1="399.4" x2="647.78" y2="540.3" stroke="#F1F1F1" stroke-width="0.6" />
<line x1="572" y1="516.07" x2="672.7" y2="516.07" stroke="#F1F1F1" stroke-width="0.6" />
<line x1="572" y1="477.62" x2="672.7" y2="477.62" stroke="#F1F1F1" stroke-width="0.6" />
<line x1="572" y1="439.17" x2="672.7" y2="439.17" stroke="#F1F1F1" stroke-width="0.6" />
<line x1="572" y1="400.72" x2="672.7" y2="400.72" stroke="#F1F1F1" stroke-width="0.6" />
<line x1="587" y1="399.4" x2="587" y2="540.3" stroke="#EBEBEB" stroke-width="1" />
<line x1="627.52" y1="399.4" x2="627.52" y2="540.3" stroke="#EBEBEB" stroke-width="1" />
<line x1="668.04" y1="399.4" x2="668.04" y2="540.3" stroke="#EBEBEB" stroke-width="1" />
<line x1="572" y1="535.3" x2="672.7" y2="535.3" stroke="#EBEBEB" stroke-width="1" />
<line x1="572" y1="496.85" x2="672.7" y2="496.85" stroke="#EBEBEB" stroke-width="1" />
<line x1="572" y1="458.4" x2="672.7" y2="458.4" stroke="#EBEBEB" stroke-width="1" />
<line x1="572" y1="419.95" x2="672.7" y2="419.95" stroke="#EBEBEB" stroke-width="1" />
<line x1="657.5" y1="399.9" x2="657.5" y2="540.3" stroke="#EE3B3B" stroke-width="1" stroke-dasharray="1,1"/>
<polyline points="576.87,473.9 587,435.5 597.13,432.1 607.26,452.4 617.39,471.8 627.52,459.5 637.65,476.4 647.78,490.3 657.91,469.7 668.04,449.6" fill="none" stroke="#D9623D" stroke-width="1.15" stroke-linejoin="round" stroke-linecap="round"/>
<polyline points="576.87,453.8 587,444.8 597.13,449 607.26,448.2 617.39,442.7 627.52,442.7 637.65,443.3 647.78,448.2 657.91,447.5 668.04,461.2" fill="none" stroke="#C0C61C" stroke-width="1.15" stroke-linejoin="round" stroke-linecap="round"/>
<polyline points="576.87,437 587,440.2 597.13,439.1 607.26,429.6 617.39,432.8 627.52,433.8 637.65,434.9 647.78,447.5 657.91,446.5 668.04,460.2" fill="none" stroke="#3DB34A" stroke-width="1.15" stroke-linejoin="round" stroke-linecap="round"/>
<polyline points="576.87,490 587,486 597.13,488 607.26,480 617.39,473.9 627.52,471.8 637.65,474.3 647.78,473.4 657.91,477.7 668.04,491.2" fill="none" stroke="#2B90E4" stroke-width="1.15" stroke-linejoin="round" stroke-linecap="round"/>
<polyline points="576.87,447.5 587,450.3 597.13,451.3 607.26,454.5 617.39,457.4 627.52,453.8 637.65,457.4 647.78,457.6 657.91,459.1 668.04,474.3" fill="none" stroke="#22398C" stroke-width="1.15" stroke-linejoin="round" stroke-linecap="round"/>
<text font-size="7.6" fill="#000" text-anchor="middle" transform="translate(595.4 431.86)" stroke="#000" stroke-width="0.12">*</text>
<text font-size="7.6" fill="#000" text-anchor="middle" transform="translate(609.7 429.76)" stroke="#000" stroke-width="0.12">*</text>
<text font-size="7.6" fill="#000" text-anchor="middle" transform="translate(618.2 432.36)" stroke="#000" stroke-width="0.12">*</text>
<text font-size="7.6" fill="#000" text-anchor="middle" transform="translate(631.6 433.96)" stroke="#000" stroke-width="0.12">*</text>
<text font-size="7.6" fill="#000" text-anchor="middle" transform="translate(638.6 434.46)" stroke="#000" stroke-width="0.12">*</text>
<rect x="576.4" y="475.6" width="48.9" height="57.3" fill="#FFFFFF" />
<line x1="576.4" y1="530.4" x2="625.3" y2="530.4" stroke="#EBEBEB" stroke-width="0.8" />
<line x1="576.4" y1="516.51" x2="625.3" y2="516.51" stroke="#EBEBEB" stroke-width="0.8" />
<line x1="576.4" y1="502.62" x2="625.3" y2="502.62" stroke="#EBEBEB" stroke-width="0.8" />
<line x1="576.4" y1="488.73" x2="625.3" y2="488.73" stroke="#EBEBEB" stroke-width="0.8" />
<line x1="582.5" y1="475.6" x2="582.5" y2="532.9" stroke="#EBEBEB" stroke-width="0.8" />
<line x1="591.83" y1="475.6" x2="591.83" y2="532.9" stroke="#EBEBEB" stroke-width="0.8" />
<line x1="601.16" y1="475.6" x2="601.16" y2="532.9" stroke="#EBEBEB" stroke-width="0.8" />
<line x1="610.49" y1="475.6" x2="610.49" y2="532.9" stroke="#EBEBEB" stroke-width="0.8" />
<line x1="619.82" y1="475.6" x2="619.82" y2="532.9" stroke="#EBEBEB" stroke-width="0.8" />
<rect x="577.83" y="497.1" width="4.67" height="33.3" fill="#EDBDAF" />
<rect x="582.5" y="482.3" width="4.67" height="48.1" fill="#D65F3B" />
<rect x="587.16" y="482.3" width="4.67" height="48.1" fill="#E4E69C" />
<rect x="591.83" y="480.2" width="4.67" height="50.2" fill="#BCC20E" />
<rect x="596.49" y="482.3" width="4.67" height="48.1" fill="#B5DFB6" />
<rect x="601.16" y="478.1" width="4.67" height="52.3" fill="#36AE48" />
<rect x="605.82" y="497.1" width="4.67" height="33.3" fill="#A3CCEF" />
<rect x="610.49" y="498.7" width="4.67" height="31.7" fill="#0B76D8" />
<rect x="615.15" y="488.6" width="4.67" height="41.8" fill="#A1AED6" />
<rect x="619.82" y="487.6" width="4.67" height="42.8" fill="#0C2D87" />
<rect x="576.4" y="475.6" width="48.9" height="57.3" fill="none" stroke="#7A7A7A" stroke-width="0.9" />
<rect x="572.5" y="399.5" width="100" height="141" fill="none" stroke="#A3A3A3" stroke-width="1" />
</g>
<g>
<line x1="400.76" y1="546.4" x2="400.76" y2="675.4" stroke="#F1F1F1" stroke-width="0.6" />
<line x1="441.28" y1="546.4" x2="441.28" y2="675.4" stroke="#F1F1F1" stroke-width="0.6" />
<line x1="365.5" y1="650.98" x2="466.2" y2="650.98" stroke="#F1F1F1" stroke-width="0.6" />
<line x1="365.5" y1="612.53" x2="466.2" y2="612.53" stroke="#F1F1F1" stroke-width="0.6" />
<line x1="365.5" y1="574.08" x2="466.2" y2="574.08" stroke="#F1F1F1" stroke-width="0.6" />
<line x1="380.5" y1="546.4" x2="380.5" y2="675.4" stroke="#EBEBEB" stroke-width="1" />
<line x1="421.02" y1="546.4" x2="421.02" y2="675.4" stroke="#EBEBEB" stroke-width="1" />
<line x1="461.54" y1="546.4" x2="461.54" y2="675.4" stroke="#EBEBEB" stroke-width="1" />
<line x1="365.5" y1="670.2" x2="466.2" y2="670.2" stroke="#EBEBEB" stroke-width="1" />
<line x1="365.5" y1="631.75" x2="466.2" y2="631.75" stroke="#EBEBEB" stroke-width="1" />
<line x1="365.5" y1="593.3" x2="466.2" y2="593.3" stroke="#EBEBEB" stroke-width="1" />
<line x1="365.5" y1="554.85" x2="466.2" y2="554.85" stroke="#EBEBEB" stroke-width="1" />
<line x1="451.5" y1="546.9" x2="451.5" y2="675.4" stroke="#EE3B3B" stroke-width="1" stroke-dasharray="1,1"/>
<polyline points="370.37,663.4 380.5,663.4 390.63,661.2 400.76,660 410.89,660.7 421.02,664.6 431.15,662.3 441.28,659.6 451.41,657.8 461.54,655.1" fill="none" stroke="#D9623D" stroke-width="1.15" stroke-linejoin="round" stroke-linecap="round"/>
<polyline points="370.37,661.6 380.5,663.4 390.63,660.5 400.76,660 410.89,661.2 421.02,658.9 431.15,657.8 441.28,657.3 451.41,657.8 461.54,661.9" fill="none" stroke="#C0C61C" stroke-width="1.15" stroke-linejoin="round" stroke-linecap="round"/>
<polyline points="370.37,664.1 380.5,663.4 390.63,662.3 400.76,661.9 410.89,661 421.02,660.2 431.15,659.5 441.28,658.9 451.41,658.2 461.54,662.3" fill="none" stroke="#3DB34A" stroke-width="1.15" stroke-linejoin="round" stroke-linecap="round"/>
<polyline points="370.37,664.6 380.5,662.3 390.63,660.7 400.76,661.2 410.89,662.3 421.02,661.9 431.15,659.6 441.28,657.8 451.41,657.3 461.54,661.2" fill="none" stroke="#2B90E4" stroke-width="1.15" stroke-linejoin="round" stroke-linecap="round"/>
<polyline points="370.37,665 380.5,664.6 390.63,664.1 400.76,663.4 410.89,663.4 421.02,662.8 431.15,662.3 441.28,661.9 451.41,661.2 461.54,663.4" fill="none" stroke="#22398C" stroke-width="1.15" stroke-linejoin="round" stroke-linecap="round"/>
<rect x="365.2" y="547.5" width="16" height="59.8" fill="#FFFFFF" />
<rect x="380.2" y="605.8" width="52.4" height="16" fill="#FFFFFF" />
<rect x="430.6" y="547.5" width="2" height="60.3" fill="#FFFFFF" />
<rect x="381.2" y="549.5" width="49.4" height="57.3" fill="#FFFFFF" />
<line x1="381.2" y1="604.6" x2="430.6" y2="604.6" stroke="#EBEBEB" stroke-width="0.8" />
<line x1="381.2" y1="590.71" x2="430.6" y2="590.71" stroke="#EBEBEB" stroke-width="0.8" />
<line x1="381.2" y1="576.82" x2="430.6" y2="576.82" stroke="#EBEBEB" stroke-width="0.8" />
<line x1="381.2" y1="562.93" x2="430.6" y2="562.93" stroke="#EBEBEB" stroke-width="0.8" />
<line x1="387.3" y1="549.5" x2="387.3" y2="606.8" stroke="#EBEBEB" stroke-width="0.8" />
<line x1="396.63" y1="549.5" x2="396.63" y2="606.8" stroke="#EBEBEB" stroke-width="0.8" />
<line x1="405.96" y1="549.5" x2="405.96" y2="606.8" stroke="#EBEBEB" stroke-width="0.8" />
<line x1="415.29" y1="549.5" x2="415.29" y2="606.8" stroke="#EBEBEB" stroke-width="0.8" />
<line x1="424.62" y1="549.5" x2="424.62" y2="606.8" stroke="#EBEBEB" stroke-width="0.8" />
<rect x="382.63" y="596.6" width="4.67" height="8" fill="#EDBDAF" />
<rect x="387.3" y="581.4" width="4.67" height="23.2" fill="#D65F3B" />
<rect x="391.96" y="598.2" width="4.67" height="6.4" fill="#E4E69C" />
<rect x="396.63" y="594.4" width="4.67" height="10.2" fill="#BCC20E" />
<rect x="401.29" y="599.3" width="4.67" height="5.3" fill="#B5DFB6" />
<rect x="405.96" y="599.3" width="4.67" height="5.3" fill="#36AE48" />
<rect x="410.62" y="600" width="4.67" height="4.6" fill="#A3CCEF" />
<rect x="415.29" y="597.8" width="4.67" height="6.8" fill="#0B76D8" />
<rect x="419.95" y="600" width="4.67" height="4.6" fill="#A1AED6" />
<rect x="424.62" y="599.3" width="4.67" height="5.3" fill="#0C2D87" />
<text font-size="6.9" fill="#000" text-anchor="middle" transform="translate(389.63 581.84)" stroke="#000" stroke-width="0.12">*</text>
<rect x="381.2" y="549.5" width="49.4" height="57.3" fill="none" stroke="#7A7A7A" stroke-width="0.9" />
<line x1="379.6" y1="604.6" x2="381.2" y2="604.6" stroke="#555" stroke-width="0.6" />
<text font-size="6.1" fill="#222222" text-anchor="end" transform="translate(379.6 607) scale(1 1.12)" stroke="#222222" stroke-width="0.1">0</text>
<line x1="379.6" y1="590.71" x2="381.2" y2="590.71" stroke="#555" stroke-width="0.6" />
<text font-size="6.1" fill="#222222" text-anchor="end" transform="translate(379.6 593.11) scale(1 1.12)" stroke="#222222" stroke-width="0.1">3</text>
<line x1="379.6" y1="576.82" x2="381.2" y2="576.82" stroke="#555" stroke-width="0.6" />
<text font-size="6.1" fill="#222222" text-anchor="end" transform="translate(379.6 579.22) scale(1 1.12)" stroke="#222222" stroke-width="0.1">6</text>
<line x1="379.6" y1="562.93" x2="381.2" y2="562.93" stroke="#555" stroke-width="0.6" />
<text font-size="6.1" fill="#222222" text-anchor="end" transform="translate(379.6 565.33) scale(1 1.12)" stroke="#222222" stroke-width="0.1">9</text>
<line x1="387.3" y1="606.8" x2="387.3" y2="608.3" stroke="#555" stroke-width="0.6" />
<text font-size="6.1" fill="#222222" text-anchor="middle" transform="translate(387.3 613.7) scale(1 1.12)" stroke="#222222" stroke-width="0.1">15</text>
<line x1="396.63" y1="606.8" x2="396.63" y2="608.3" stroke="#555" stroke-width="0.6" />
<text font-size="6.1" fill="#222222" text-anchor="middle" transform="translate(396.63 613.7) scale(1 1.12)" stroke="#222222" stroke-width="0.1">30</text>
<line x1="405.96" y1="606.8" x2="405.96" y2="608.3" stroke="#555" stroke-width="0.6" />
<text font-size="6.1" fill="#222222" text-anchor="middle" transform="translate(405.96 613.7) scale(1 1.12)" stroke="#222222" stroke-width="0.1">45</text>
<line x1="415.29" y1="606.8" x2="415.29" y2="608.3" stroke="#555" stroke-width="0.6" />
<text font-size="6.1" fill="#222222" text-anchor="middle" transform="translate(415.29 613.7) scale(1 1.12)" stroke="#222222" stroke-width="0.1">60</text>
<line x1="424.62" y1="606.8" x2="424.62" y2="608.3" stroke="#555" stroke-width="0.6" />
<text font-size="6.1" fill="#222222" text-anchor="middle" transform="translate(424.62 613.7) scale(1 1.12)" stroke="#222222" stroke-width="0.1">90</text>
<text font-size="6.5" fill="#222" text-anchor="middle" transform="translate(405.9 621.5) scale(1 1.12)" stroke="#222" stroke-width="0.1">Shelter time (s)</text>
<text font-size="6.5" fill="#222" text-anchor="middle" transform="translate(374 579.65) rotate(-90) scale(1 1.12)" stroke="#222" stroke-width="0.1">% New cases</text>
<rect x="365.5" y="546.5" width="101" height="129" fill="none" stroke="#A3A3A3" stroke-width="1" />
</g>
<line x1="362" y1="670.2" x2="365.5" y2="670.2" stroke="#4D4D4D" stroke-width="0.7" />
<text font-size="7.7" fill="#222222" text-anchor="end" transform="translate(360.9 672.95) scale(1 1.12)" stroke="#222222" stroke-width="0.1">0</text>
<line x1="362" y1="631.75" x2="365.5" y2="631.75" stroke="#4D4D4D" stroke-width="0.7" />
<text font-size="7.7" fill="#222222" text-anchor="end" transform="translate(360.9 634.5) scale(1 1.12)" stroke="#222222" stroke-width="0.1">5</text>
<line x1="362" y1="593.3" x2="365.5" y2="593.3" stroke="#4D4D4D" stroke-width="0.7" />
<text font-size="7.7" fill="#222222" text-anchor="end" transform="translate(360.9 596.05) scale(1 1.12)" stroke="#222222" stroke-width="0.1">10</text>
<line x1="380.5" y1="675.4" x2="380.5" y2="678.9" stroke="#4D4D4D" stroke-width="0.7" />
<text font-size="7.7" fill="#222222" text-anchor="middle" transform="translate(380.5 687.6) scale(1 1.12)" stroke="#222222" stroke-width="0.1">2016</text>
<line x1="421.02" y1="675.4" x2="421.02" y2="678.9" stroke="#4D4D4D" stroke-width="0.7" />
<text font-size="7.7" fill="#222222" text-anchor="middle" transform="translate(421.02 687.6) scale(1 1.12)" stroke="#222222" stroke-width="0.1">2020</text>
<line x1="461.54" y1="675.4" x2="461.54" y2="678.9" stroke="#4D4D4D" stroke-width="0.7" />
<text font-size="7.7" fill="#222222" text-anchor="middle" transform="translate(461.54 687.6) scale(1 1.12)" stroke="#222222" stroke-width="0.1">2024</text>
<g>
<line x1="503.76" y1="546.4" x2="503.76" y2="675.4" stroke="#F1F1F1" stroke-width="0.6" />
<line x1="544.28" y1="546.4" x2="544.28" y2="675.4" stroke="#F1F1F1" stroke-width="0.6" />
<line x1="468.5" y1="650.98" x2="569.2" y2="650.98" stroke="#F1F1F1" stroke-width="0.6" />
<line x1="468.5" y1="612.53" x2="569.2" y2="612.53" stroke="#F1F1F1" stroke-width="0.6" />
<line x1="468.5" y1="574.08" x2="569.2" y2="574.08" stroke="#F1F1F1" stroke-width="0.6" />
<line x1="483.5" y1="546.4" x2="483.5" y2="675.4" stroke="#EBEBEB" stroke-width="1" />
<line x1="524.02" y1="546.4" x2="524.02" y2="675.4" stroke="#EBEBEB" stroke-width="1" />
<line x1="564.54" y1="546.4" x2="564.54" y2="675.4" stroke="#EBEBEB" stroke-width="1" />
<line x1="468.5" y1="670.2" x2="569.2" y2="670.2" stroke="#EBEBEB" stroke-width="1" />
<line x1="468.5" y1="631.75" x2="569.2" y2="631.75" stroke="#EBEBEB" stroke-width="1" />
<line x1="468.5" y1="593.3" x2="569.2" y2="593.3" stroke="#EBEBEB" stroke-width="1" />
<line x1="468.5" y1="554.85" x2="569.2" y2="554.85" stroke="#EBEBEB" stroke-width="1" />
<line x1="554.5" y1="546.9" x2="554.5" y2="675.4" stroke="#EE3B3B" stroke-width="1" stroke-dasharray="1,1"/>
<polyline points="473.37,659.5 483.5,659.5 493.63,651.9 503.76,651.5 513.89,653.6 524.02,655.7 534.15,656.7 544.28,653.2 554.41,654 564.54,620.9" fill="none" stroke="#D9623D" stroke-width="1.15" stroke-linejoin="round" stroke-linecap="round"/>
<polyline points="473.37,645.6 483.5,645.2 493.63,640.5 503.76,639.9 513.89,640.9 524.02,641.4 534.15,640.5 544.28,637.2 554.41,638.8 564.54,644.1" fill="none" stroke="#C0C61C" stroke-width="1.15" stroke-linejoin="round" stroke-linecap="round"/>
<polyline points="473.37,652.5 483.5,652.5 493.63,650.4 503.76,651.5 513.89,651.9 524.02,648.3 534.15,646.2 544.28,644.1 554.41,644.7 564.54,651.5" fill="none" stroke="#3DB34A" stroke-width="1.15" stroke-linejoin="round" stroke-linecap="round"/>
<polyline points="473.37,652.5 483.5,654 493.63,653.2 503.76,651.9 513.89,655.7 524.02,652.5 534.15,654.6 544.28,651.9 554.41,654 564.54,658.2" fill="none" stroke="#2B90E4" stroke-width="1.15" stroke-linejoin="round" stroke-linecap="round"/>
<polyline points="473.37,651.5 483.5,651.5 493.63,651.1 503.76,650.4 513.89,651.5 524.02,651.5 534.15,650.4 544.28,649 554.41,647.7 564.54,653.2" fill="none" stroke="#22398C" stroke-width="1.15" stroke-linejoin="round" stroke-linecap="round"/>
<rect x="473.4" y="549.7" width="48.9" height="57.5" fill="#FFFFFF" />
<line x1="473.4" y1="604.7" x2="522.3" y2="604.7" stroke="#EBEBEB" stroke-width="0.8" />
<line x1="473.4" y1="590.81" x2="522.3" y2="590.81" stroke="#EBEBEB" stroke-width="0.8" />
<line x1="473.4" y1="576.92" x2="522.3" y2="576.92" stroke="#EBEBEB" stroke-width="0.8" />
<line x1="473.4" y1="563.03" x2="522.3" y2="563.03" stroke="#EBEBEB" stroke-width="0.8" />
<line x1="479.5" y1="549.7" x2="479.5" y2="607.2" stroke="#EBEBEB" stroke-width="0.8" />
<line x1="488.83" y1="549.7" x2="488.83" y2="607.2" stroke="#EBEBEB" stroke-width="0.8" />
<line x1="498.16" y1="549.7" x2="498.16" y2="607.2" stroke="#EBEBEB" stroke-width="0.8" />
<line x1="507.49" y1="549.7" x2="507.49" y2="607.2" stroke="#EBEBEB" stroke-width="0.8" />
<line x1="516.82" y1="549.7" x2="516.82" y2="607.2" stroke="#EBEBEB" stroke-width="0.8" />
<rect x="474.83" y="589.9" width="4.67" height="14.8" fill="#EDBDAF" />
<rect x="479.5" y="559.8" width="4.67" height="44.9" fill="#D65F3B" />
<rect x="484.16" y="583" width="4.67" height="21.7" fill="#E4E69C" />
<rect x="488.83" y="579.8" width="4.67" height="24.9" fill="#BCC20E" />
<rect x="493.49" y="587.2" width="4.67" height="17.5" fill="#B5DFB6" />
<rect x="498.16" y="584" width="4.67" height="20.7" fill="#36AE48" />
<rect x="502.82" y="590.8" width="4.67" height="13.9" fill="#A3CCEF" />
<rect x="507.49" y="588.9" width="4.67" height="15.8" fill="#0B76D8" />
<rect x="512.15" y="589.7" width="4.67" height="15" fill="#A1AED6" />
<rect x="516.82" y="587.8" width="4.67" height="16.9" fill="#0C2D87" />
<text font-size="6.9" fill="#000" text-anchor="middle" transform="translate(481.83 560.44)" stroke="#000" stroke-width="0.12">*</text>
<rect x="473.4" y="549.7" width="48.9" height="57.5" fill="none" stroke="#7A7A7A" stroke-width="0.9" />
<rect x="468.5" y="546.5" width="101" height="129" fill="none" stroke="#A3A3A3" stroke-width="1" />
</g>
<line x1="483.5" y1="675.4" x2="483.5" y2="678.9" stroke="#4D4D4D" stroke-width="0.7" />
<text font-size="7.7" fill="#222222" text-anchor="middle" transform="translate(483.5 687.6) scale(1 1.12)" stroke="#222222" stroke-width="0.1">2016</text>
<line x1="524.02" y1="675.4" x2="524.02" y2="678.9" stroke="#4D4D4D" stroke-width="0.7" />
<text font-size="7.7" fill="#222222" text-anchor="middle" transform="translate(524.02 687.6) scale(1 1.12)" stroke="#222222" stroke-width="0.1">2020</text>
<line x1="564.54" y1="675.4" x2="564.54" y2="678.9" stroke="#4D4D4D" stroke-width="0.7" />
<text font-size="7.7" fill="#222222" text-anchor="middle" transform="translate(564.54 687.6) scale(1 1.12)" stroke="#222222" stroke-width="0.1">2024</text>
<g>
<line x1="607.26" y1="546.4" x2="607.26" y2="675.4" stroke="#F1F1F1" stroke-width="0.6" />
<line x1="647.78" y1="546.4" x2="647.78" y2="675.4" stroke="#F1F1F1" stroke-width="0.6" />
<line x1="572" y1="650.98" x2="672.7" y2="650.98" stroke="#F1F1F1" stroke-width="0.6" />
<line x1="572" y1="612.53" x2="672.7" y2="612.53" stroke="#F1F1F1" stroke-width="0.6" />
<line x1="572" y1="574.08" x2="672.7" y2="574.08" stroke="#F1F1F1" stroke-width="0.6" />
<line x1="587" y1="546.4" x2="587" y2="675.4" stroke="#EBEBEB" stroke-width="1" />
<line x1="627.52" y1="546.4" x2="627.52" y2="675.4" stroke="#EBEBEB" stroke-width="1" />
<line x1="668.04" y1="546.4" x2="668.04" y2="675.4" stroke="#EBEBEB" stroke-width="1" />
<line x1="572" y1="670.2" x2="672.7" y2="670.2" stroke="#EBEBEB" stroke-width="1" />
<line x1="572" y1="631.75" x2="672.7" y2="631.75" stroke="#EBEBEB" stroke-width="1" />
<line x1="572" y1="593.3" x2="672.7" y2="593.3" stroke="#EBEBEB" stroke-width="1" />
<line x1="572" y1="554.85" x2="672.7" y2="554.85" stroke="#EBEBEB" stroke-width="1" />
<line x1="657.5" y1="546.9" x2="657.5" y2="675.4" stroke="#EE3B3B" stroke-width="1" stroke-dasharray="1,1"/>
<polyline points="576.87,635 587,646.8 597.13,615.7 607.26,633.6 617.39,630 627.52,627.2 637.65,626.2 647.78,639.3 657.91,647.7 668.04,638.8" fill="none" stroke="#D9623D" stroke-width="1.15" stroke-linejoin="round" stroke-linecap="round"/>
<polyline points="576.87,615.2 587,616.7 597.13,617.8 607.26,612.5 617.39,614 627.52,611 637.65,614.6 647.78,611 657.91,609.3 668.04,627.2" fill="none" stroke="#C0C61C" stroke-width="1.15" stroke-linejoin="round" stroke-linecap="round"/>
<polyline points="576.87,616.7 587,616.7 597.13,614.2 607.26,616.1 617.39,616.7 627.52,616.1 637.65,615.2 647.78,625.1 657.91,622.4 668.04,630.8" fill="none" stroke="#3DB34A" stroke-width="1.15" stroke-linejoin="round" stroke-linecap="round"/>
<polyline points="576.87,631.5 587,636.7 597.13,637.2 607.26,640.9 617.39,634.6 627.52,631.5 637.65,635 647.78,631.5 657.91,642.6 668.04,645.6" fill="none" stroke="#2B90E4" stroke-width="1.15" stroke-linejoin="round" stroke-linecap="round"/>
<polyline points="576.87,621.6 587,620.9 597.13,622.4 607.26,626.2 617.39,628.3 627.52,624.5 637.65,626.2 647.78,625.1 657.91,626.6 668.04,635" fill="none" stroke="#22398C" stroke-width="1.15" stroke-linejoin="round" stroke-linecap="round"/>
<rect x="576.4" y="549.7" width="48.9" height="57.5" fill="#FFFFFF" />
<line x1="576.4" y1="604.5" x2="625.3" y2="604.5" stroke="#EBEBEB" stroke-width="0.8" />
<line x1="576.4" y1="590.61" x2="625.3" y2="590.61" stroke="#EBEBEB" stroke-width="0.8" />
<line x1="576.4" y1="576.72" x2="625.3" y2="576.72" stroke="#EBEBEB" stroke-width="0.8" />
<line x1="576.4" y1="562.83" x2="625.3" y2="562.83" stroke="#EBEBEB" stroke-width="0.8" />
<line x1="582.5" y1="549.7" x2="582.5" y2="607.2" stroke="#EBEBEB" stroke-width="0.8" />
<line x1="591.83" y1="549.7" x2="591.83" y2="607.2" stroke="#EBEBEB" stroke-width="0.8" />
<line x1="601.16" y1="549.7" x2="601.16" y2="607.2" stroke="#EBEBEB" stroke-width="0.8" />
<line x1="610.49" y1="549.7" x2="610.49" y2="607.2" stroke="#EBEBEB" stroke-width="0.8" />
<line x1="619.82" y1="549.7" x2="619.82" y2="607.2" stroke="#EBEBEB" stroke-width="0.8" />
<rect x="577.83" y="594.2" width="4.67" height="10.3" fill="#EDBDAF" />
<rect x="582.5" y="590.4" width="4.67" height="14.1" fill="#D65F3B" />
<rect x="587.16" y="571" width="4.67" height="33.5" fill="#E4E69C" />
<rect x="591.83" y="573.1" width="4.67" height="31.4" fill="#BCC20E" />
<rect x="596.49" y="577.7" width="4.67" height="26.8" fill="#B5DFB6" />
<rect x="601.16" y="579.2" width="4.67" height="25.3" fill="#36AE48" />
<rect x="605.82" y="587.8" width="4.67" height="16.7" fill="#A3CCEF" />
<rect x="610.49" y="588.3" width="4.67" height="16.2" fill="#0B76D8" />
<rect x="615.15" y="580.2" width="4.67" height="24.3" fill="#A1AED6" />
<rect x="619.82" y="580.2" width="4.67" height="24.3" fill="#0C2D87" />
<rect x="576.4" y="549.7" width="48.9" height="57.5" fill="none" stroke="#7A7A7A" stroke-width="0.9" />
<rect x="572.5" y="546.5" width="100" height="129" fill="none" stroke="#A3A3A3" stroke-width="1" />
</g>
<line x1="587" y1="675.4" x2="587" y2="678.9" stroke="#4D4D4D" stroke-width="0.7" />
<text font-size="7.7" fill="#222222" text-anchor="middle" transform="translate(587 687.6) scale(1 1.12)" stroke="#222222" stroke-width="0.1">2016</text>
<line x1="627.52" y1="675.4" x2="627.52" y2="678.9" stroke="#4D4D4D" stroke-width="0.7" />
<text font-size="7.7" fill="#222222" text-anchor="middle" transform="translate(627.52 687.6) scale(1 1.12)" stroke="#222222" stroke-width="0.1">2020</text>
<line x1="668.04" y1="675.4" x2="668.04" y2="678.9" stroke="#4D4D4D" stroke-width="0.7" />
<text font-size="7.7" fill="#222222" text-anchor="middle" transform="translate(668.04 687.6) scale(1 1.12)" stroke="#222222" stroke-width="0.1">2024</text>
<text font-size="12.2" fill="#000" transform="translate(12.5 9.3) scale(1 1.12)">A</text>
<text font-size="12.2" fill="#000" transform="translate(253.6 9.5) scale(1 1.12)">B</text>
<text font-size="12.2" fill="#000" transform="translate(12 378.3) scale(1 1.12)">C</text>
<text font-size="12.2" fill="#000" transform="translate(355.6 378.3) scale(1 1.12)">D</text>
<text font-size="11.9" fill="#000" text-anchor="middle" font-weight="bold" transform="translate(470.6 11) scale(1 1.02)" stroke="#000" stroke-width="0.1">Psychiatric Load</text>
<line x1="254" y1="15.5" x2="684.3" y2="15.5" stroke="#1A1A1A" stroke-width="1" />
<text font-size="11.9" fill="#000" text-anchor="middle" font-weight="bold" transform="translate(177.7 378.6)" stroke="#000" stroke-width="0.1">Antidepressant</text>
<line x1="12" y1="383.5" x2="341.2" y2="383.5" stroke="#1A1A1A" stroke-width="1" />
<text font-size="11.9" fill="#000" text-anchor="middle" font-weight="bold" transform="translate(513.3 378.6)" stroke="#000" stroke-width="0.1">Anxiolytic</text>
<line x1="357.2" y1="383.5" x2="672.1" y2="383.5" stroke="#1A1A1A" stroke-width="1" />
<text font-size="7.8" fill="#1A1A1A" text-anchor="middle" transform="translate(341.6 27.7) scale(1 1.12)" stroke="#1A1A1A" stroke-width="0.1">19−45</text>
<text font-size="7.8" fill="#1A1A1A" text-anchor="middle" transform="translate(84.8 396.5) scale(1 1.12)" stroke="#1A1A1A" stroke-width="0.1">19−45</text>
<text font-size="7.8" fill="#1A1A1A" text-anchor="middle" transform="translate(415.85 396.5) scale(1 1.12)" stroke="#1A1A1A" stroke-width="0.1">19−45</text>
<text font-size="7.8" fill="#1A1A1A" text-anchor="middle" transform="translate(475.4 27.7) scale(1 1.12)" stroke="#1A1A1A" stroke-width="0.1">46−64</text>
<text font-size="7.8" fill="#1A1A1A" text-anchor="middle" transform="translate(188.1 396.5) scale(1 1.12)" stroke="#1A1A1A" stroke-width="0.1">46−64</text>
<text font-size="7.8" fill="#1A1A1A" text-anchor="middle" transform="translate(518.85 396.5) scale(1 1.12)" stroke="#1A1A1A" stroke-width="0.1">46−64</text>
<text font-size="7.8" fill="#1A1A1A" text-anchor="middle" transform="translate(605.4 27.7) scale(1 1.12)" stroke="#1A1A1A" stroke-width="0.1">65−plus</text>
<text font-size="7.8" fill="#1A1A1A" text-anchor="middle" transform="translate(291.7 396.5) scale(1 1.12)" stroke="#1A1A1A" stroke-width="0.1">65−plus</text>
<text font-size="7.8" fill="#1A1A1A" text-anchor="middle" transform="translate(622.35 396.5) scale(1 1.12)" stroke="#1A1A1A" stroke-width="0.1">65−plus</text>
<rect x="676.1" y="30.2" width="8.9" height="151.1" fill="#E3E3E3" />
<text font-size="8" fill="#1A1A1A" text-anchor="middle" transform="translate(680.6 108.6) scale(1 1.12)" stroke="#1A1A1A" stroke-width="0.1">W</text>
<rect x="676.1" y="186.6" width="8.9" height="149.7" fill="#E3E3E3" />
<text font-size="8" fill="#1A1A1A" text-anchor="middle" transform="translate(680.6 264.4) scale(1 1.12)" stroke="#1A1A1A" stroke-width="0.1">M</text>
<rect x="676.5" y="399.4" width="8.5" height="141" fill="#E3E3E3" />
<text font-size="8" fill="#1A1A1A" text-anchor="middle" transform="translate(681.2 467.9) scale(1 1.12)" stroke="#1A1A1A" stroke-width="0.1">W</text>
<rect x="676.5" y="546.4" width="8.5" height="129" fill="#E3E3E3" />
<text font-size="8" fill="#1A1A1A" text-anchor="middle" transform="translate(681.2 613.7) scale(1 1.12)" stroke="#1A1A1A" stroke-width="0.1">M</text>
<text font-size="7.9" fill="#111" text-anchor="middle" transform="translate(260.6 105.7) rotate(-90) scale(1 1.12)" stroke="#111" stroke-width="0.1">% Cumulative Prevalance</text>
<text font-size="7.9" fill="#111" text-anchor="middle" transform="translate(260.6 261.5) rotate(-90) scale(1 1.12)" stroke="#111" stroke-width="0.1">% Cumulative Prevalance</text>
<text font-size="8.5" fill="#111" text-anchor="middle" transform="translate(19.8 465) rotate(-90) scale(1 1.12)" stroke="#111" stroke-width="0.1">% Med consumption</text>
<text font-size="8.5" fill="#111" text-anchor="middle" transform="translate(19.8 611) rotate(-90) scale(1 1.12)" stroke="#111" stroke-width="0.1">% Med consumption</text>
<text font-size="7.8" fill="#111" text-anchor="middle" transform="translate(478 358.2) scale(1 1.12)" stroke="#111" stroke-width="0.1">Year</text>
<text font-size="7.8" fill="#111" text-anchor="middle" transform="translate(189 697.6) scale(1 1.12)" stroke="#111" stroke-width="0.1">Year</text>
<text font-size="7.8" fill="#111" text-anchor="middle" transform="translate(519 697.6) scale(1 1.12)" stroke="#111" stroke-width="0.1">Year</text>
</svg></body></html>
